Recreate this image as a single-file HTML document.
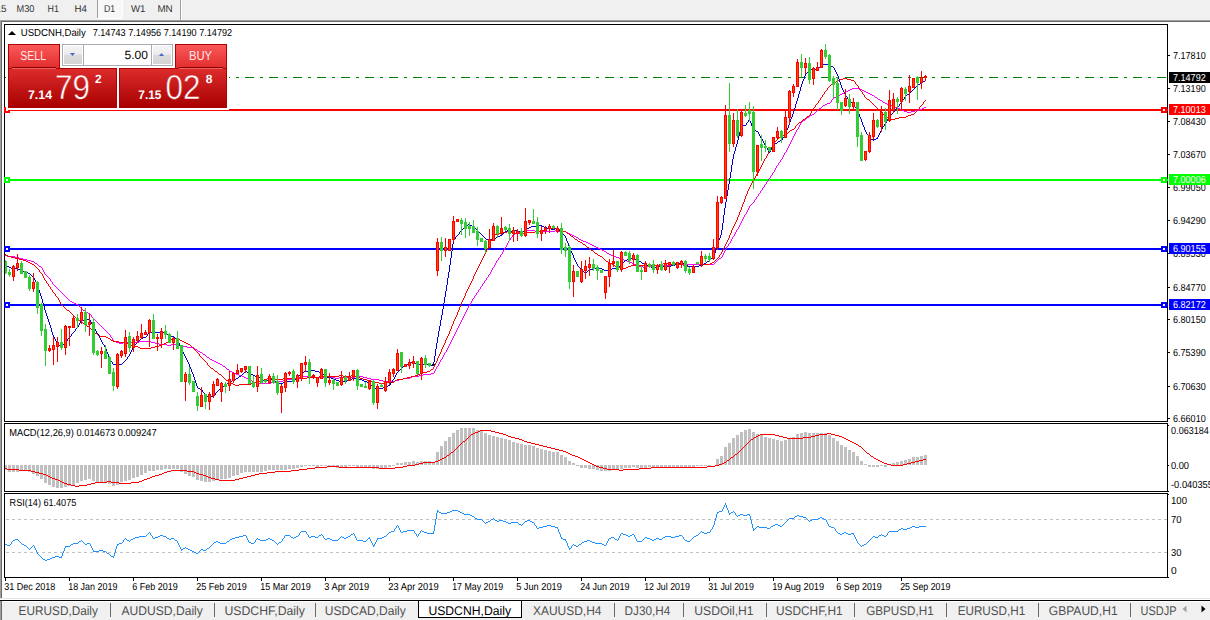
<!DOCTYPE html><html><head><meta charset="utf-8"><title>USDCNH,Daily</title><style>html,body{margin:0;padding:0;background:#f0f0f0;overflow:hidden;width:1210px;height:620px}svg{display:block;font-family:"Liberation Sans",sans-serif}</style></head><body><svg width="1210" height="620" viewBox="0 0 1210 620" font-family="Liberation Sans, sans-serif" text-rendering="geometricPrecision"><rect x="0" y="0" width="1210" height="20" fill="#f0f0f0"/>
<rect x="97" y="0" width="1" height="18" fill="#a0a0a0"/>
<rect x="98" y="0" width="24" height="18" fill="#f8f8f8"/>
<rect x="97" y="18" width="26" height="1" fill="#ffffff"/>
<rect x="122" y="0" width="1" height="18" fill="#ffffff"/>
<rect x="180" y="0" width="1" height="20" fill="#a0a0a0"/>
<rect x="181" y="0" width="1" height="20" fill="#ffffff"/>
<text x="6.5" y="12" font-size="10" fill="#333" text-anchor="end">M15</text>
<text x="16.5" y="12" font-size="10" fill="#333" textLength="17.9" lengthAdjust="spacingAndGlyphs">M30</text>
<text x="47.6" y="12" font-size="10" fill="#333" textLength="11.4" lengthAdjust="spacingAndGlyphs">H1</text>
<text x="74.4" y="12" font-size="10" fill="#333" textLength="12.4" lengthAdjust="spacingAndGlyphs">H4</text>
<text x="103.9" y="12" font-size="10" fill="#333" textLength="11.1" lengthAdjust="spacingAndGlyphs">D1</text>
<text x="131" y="12" font-size="10" fill="#333" textLength="14.5" lengthAdjust="spacingAndGlyphs">W1</text>
<text x="157.4" y="12" font-size="10" fill="#333" textLength="15.3" lengthAdjust="spacingAndGlyphs">MN</text>
<rect x="0" y="20" width="1210" height="1" fill="#a0a0a0"/>
<rect x="0" y="21" width="1210" height="1" fill="#696969"/>
<rect x="0" y="20" width="1" height="580" fill="#a0a0a0"/>
<rect x="1" y="21" width="1" height="579" fill="#696969"/>
<rect x="2" y="22" width="1208" height="576" fill="#ffffff"/>
<rect x="0" y="598" width="1210" height="1" fill="#e3e3e3"/>
<rect x="0" y="599" width="1210" height="1" fill="#ffffff"/>
<rect x="4" y="24" width="1164" height="1" fill="#000"/>
<rect x="4" y="421" width="1164" height="1" fill="#000"/>
<rect x="4" y="24" width="1" height="398" fill="#000"/>
<rect x="1167" y="24" width="1" height="398" fill="#000"/>
<rect x="4" y="423" width="1164" height="1" fill="#000"/>
<rect x="4" y="491" width="1164" height="1" fill="#000"/>
<rect x="4" y="423" width="1" height="69" fill="#000"/>
<rect x="1167" y="423" width="1" height="69" fill="#000"/>
<rect x="4" y="493" width="1164" height="1" fill="#000"/>
<rect x="4" y="577" width="1164" height="1" fill="#000"/>
<rect x="4" y="493" width="1" height="85" fill="#000"/>
<rect x="1167" y="493" width="1" height="85" fill="#000"/>
<defs><clipPath id="cm"><rect x="5" y="25" width="1162" height="396"/></clipPath><clipPath id="cmacd"><rect x="5" y="424" width="1162" height="67"/></clipPath><clipPath id="crsi"><rect x="5" y="494" width="1162" height="83"/></clipPath></defs>
<rect x="1168" y="55" width="2" height="1" fill="#000"/>
<text x="1173" y="59" font-size="10.2" fill="#000" textLength="32.7" lengthAdjust="spacingAndGlyphs">7.17810</text>
<rect x="1168" y="88" width="2" height="1" fill="#000"/>
<text x="1173" y="92" font-size="10.2" fill="#000" textLength="32.7" lengthAdjust="spacingAndGlyphs">7.13190</text>
<rect x="1168" y="121" width="2" height="1" fill="#000"/>
<text x="1173" y="125" font-size="10.2" fill="#000" textLength="32.7" lengthAdjust="spacingAndGlyphs">7.08430</text>
<rect x="1168" y="154" width="2" height="1" fill="#000"/>
<text x="1173" y="158" font-size="10.2" fill="#000" textLength="32.7" lengthAdjust="spacingAndGlyphs">7.03670</text>
<rect x="1168" y="187" width="2" height="1" fill="#000"/>
<text x="1173" y="191" font-size="10.2" fill="#000" textLength="32.7" lengthAdjust="spacingAndGlyphs">6.99050</text>
<rect x="1168" y="220" width="2" height="1" fill="#000"/>
<text x="1173" y="224" font-size="10.2" fill="#000" textLength="32.7" lengthAdjust="spacingAndGlyphs">6.94290</text>
<rect x="1168" y="253" width="2" height="1" fill="#000"/>
<text x="1173" y="257" font-size="10.2" fill="#000" textLength="32.7" lengthAdjust="spacingAndGlyphs">6.89530</text>
<rect x="1168" y="287" width="2" height="1" fill="#000"/>
<text x="1173" y="291" font-size="10.2" fill="#000" textLength="32.7" lengthAdjust="spacingAndGlyphs">6.84770</text>
<rect x="1168" y="319" width="2" height="1" fill="#000"/>
<text x="1173" y="323" font-size="10.2" fill="#000" textLength="32.7" lengthAdjust="spacingAndGlyphs">6.80150</text>
<rect x="1168" y="352" width="2" height="1" fill="#000"/>
<text x="1173" y="356" font-size="10.2" fill="#000" textLength="32.7" lengthAdjust="spacingAndGlyphs">6.75390</text>
<rect x="1168" y="386" width="2" height="1" fill="#000"/>
<text x="1173" y="390" font-size="10.2" fill="#000" textLength="32.7" lengthAdjust="spacingAndGlyphs">6.70630</text>
<rect x="1168" y="418" width="2" height="1" fill="#000"/>
<text x="1173" y="422" font-size="10.2" fill="#000" textLength="32.7" lengthAdjust="spacingAndGlyphs">6.66010</text>
<g clip-path="url(#cm)" shape-rendering="crispEdges">
<line x1="5" y1="77.5" x2="1167" y2="77.5" stroke="#008000" stroke-width="1" stroke-dasharray="9 6 3 6"/>
<rect x="5" y="109" width="1162" height="2" fill="#ff0000"/>
<rect x="5" y="179" width="1162" height="2" fill="#00ff00"/>
<rect x="5" y="248" width="1162" height="2" fill="#0000ff"/>
<rect x="5" y="304" width="1162" height="2" fill="#0000ff"/>
<path d="M852 88h7v1h-7zM850 89h2v1h-2zM859 89h3v1h-3zM848 90h2v1h-2zM862 90h2v1h-2zM846 91h2v1h-2zM864 91h2v1h-2zM844 92h2v1h-2zM866 92h2v1h-2zM842 93h2v1h-2zM868 93h2v1h-2zM840 94h2v1h-2zM870 94h2v1h-2zM838 95h2v1h-2zM872 95h2v1h-2zM836 96h2v1h-2zM874 96h1v1h-1zM834 97h2v1h-2zM875 97h2v1h-2zM833 98h1v1h-1zM877 98h1v1h-1zM832 99h1v1h-1zM878 99h2v1h-2zM831 100h1v1h-1zM880 100h2v1h-2zM831 101h1v1h-1zM882 101h1v1h-1zM830 102h1v1h-1zM883 102h2v1h-2zM827 103h3v1h-3zM885 103h2v1h-2zM825 104h2v1h-2zM887 104h3v1h-3zM823 105h2v1h-2zM890 105h2v1h-2zM822 106h1v1h-1zM892 106h3v1h-3zM821 107h1v1h-1zM895 107h3v1h-3zM924 107h2v1h-2zM819 108h2v1h-2zM898 108h2v1h-2zM922 108h2v1h-2zM818 109h1v1h-1zM900 109h2v1h-2zM919 109h3v1h-3zM817 110h1v1h-1zM902 110h2v1h-2zM915 110h4v1h-4zM816 111h1v1h-1zM904 111h3v1h-3zM911 111h4v1h-4zM815 112h1v1h-1zM907 112h4v1h-4zM814 113h1v1h-1zM812 114h2v1h-2zM810 115h2v1h-2zM809 116h1v1h-1zM807 117h2v1h-2zM806 118h1v1h-1zM805 119h1v1h-1zM803 120h2v1h-2zM802 121h1v1h-1zM801 122h1v1h-1zM800 123h1v1h-1zM800 124h1v1h-1zM799 125h1v1h-1zM799 126h1v1h-1zM798 127h1v1h-1zM798 128h1v1h-1zM797 129h1v1h-1zM796 130h1v1h-1zM796 131h1v1h-1zM795 132h1v1h-1zM795 133h1v1h-1zM794 134h1v1h-1zM794 135h1v1h-1zM793 136h1v1h-1zM793 137h1v1h-1zM792 138h1v1h-1zM792 139h1v1h-1zM791 140h1v1h-1zM791 141h1v1h-1zM790 142h1v1h-1zM790 143h1v1h-1zM789 144h1v1h-1zM789 145h1v1h-1zM788 146h1v1h-1zM788 147h1v1h-1zM787 148h1v1h-1zM787 149h1v1h-1zM786 150h1v1h-1zM786 151h1v1h-1zM785 152h1v1h-1zM784 153h1v1h-1zM784 154h1v1h-1zM783 155h1v1h-1zM783 156h1v1h-1zM782 157h1v1h-1zM782 158h1v1h-1zM781 159h1v1h-1zM780 160h1v1h-1zM780 161h1v1h-1zM779 162h1v1h-1zM778 163h1v1h-1zM778 164h1v1h-1zM777 165h1v1h-1zM776 166h1v1h-1zM776 167h1v1h-1zM775 168h1v1h-1zM775 169h1v1h-1zM774 170h1v1h-1zM774 171h1v1h-1zM773 172h1v1h-1zM772 173h1v1h-1zM772 174h1v1h-1zM771 175h1v1h-1zM770 176h1v1h-1zM770 177h1v1h-1zM769 178h1v1h-1zM768 179h1v1h-1zM768 180h1v1h-1zM767 181h1v1h-1zM766 182h1v1h-1zM766 183h1v1h-1zM765 184h1v1h-1zM764 185h1v1h-1zM764 186h1v1h-1zM763 187h1v1h-1zM762 188h1v1h-1zM762 189h1v1h-1zM761 190h1v1h-1zM760 191h1v1h-1zM760 192h1v1h-1zM759 193h1v1h-1zM758 194h1v1h-1zM758 195h1v1h-1zM757 196h1v1h-1zM756 197h1v1h-1zM756 198h1v1h-1zM755 199h1v1h-1zM754 200h1v1h-1zM754 201h1v1h-1zM753 202h1v1h-1zM752 203h1v1h-1zM751 204h1v1h-1zM750 205h1v1h-1zM749 206h1v1h-1zM749 207h1v1h-1zM748 208h1v1h-1zM748 209h1v1h-1zM747 210h1v1h-1zM747 211h1v1h-1zM746 212h1v1h-1zM746 213h1v1h-1zM745 214h1v1h-1zM744 215h1v1h-1zM744 216h1v1h-1zM743 217h1v1h-1zM743 218h1v1h-1zM742 219h1v1h-1zM742 220h1v1h-1zM741 221h1v1h-1zM741 222h1v1h-1zM740 223h1v1h-1zM740 224h1v1h-1zM739 225h1v1h-1zM739 226h1v1h-1zM738 227h1v1h-1zM738 228h1v1h-1zM737 229h1v1h-1zM527 230h8v1h-8zM555 230h4v1h-4zM736 230h1v1h-1zM523 231h4v1h-4zM535 231h20v1h-20zM559 231h7v1h-7zM736 231h1v1h-1zM519 232h4v1h-4zM566 232h2v1h-2zM735 232h1v1h-1zM515 233h4v1h-4zM568 233h2v1h-2zM735 233h1v1h-1zM513 234h2v1h-2zM570 234h2v1h-2zM734 234h1v1h-1zM512 235h1v1h-1zM572 235h2v1h-2zM734 235h1v1h-1zM512 236h1v1h-1zM574 236h2v1h-2zM733 236h1v1h-1zM511 237h1v1h-1zM576 237h2v1h-2zM732 237h1v1h-1zM510 238h1v1h-1zM578 238h1v1h-1zM732 238h1v1h-1zM510 239h1v1h-1zM579 239h2v1h-2zM731 239h1v1h-1zM509 240h1v1h-1zM581 240h2v1h-2zM731 240h1v1h-1zM508 241h1v1h-1zM583 241h3v1h-3zM730 241h1v1h-1zM508 242h1v1h-1zM586 242h2v1h-2zM730 242h1v1h-1zM507 243h1v1h-1zM588 243h2v1h-2zM729 243h1v1h-1zM507 244h1v1h-1zM590 244h2v1h-2zM728 244h1v1h-1zM506 245h1v1h-1zM592 245h2v1h-2zM728 245h1v1h-1zM506 246h1v1h-1zM594 246h2v1h-2zM727 246h1v1h-1zM505 247h1v1h-1zM596 247h2v1h-2zM726 247h1v1h-1zM504 248h1v1h-1zM598 248h2v1h-2zM726 248h1v1h-1zM504 249h1v1h-1zM600 249h2v1h-2zM725 249h1v1h-1zM503 250h1v1h-1zM602 250h2v1h-2zM725 250h1v1h-1zM503 251h1v1h-1zM604 251h2v1h-2zM724 251h1v1h-1zM502 252h1v1h-1zM606 252h1v1h-1zM724 252h1v1h-1zM502 253h1v1h-1zM607 253h2v1h-2zM723 253h1v1h-1zM1 254h2v1h-2zM501 254h1v1h-1zM609 254h2v1h-2zM723 254h1v1h-1zM3 255h4v1h-4zM500 255h1v1h-1zM611 255h3v1h-3zM722 255h1v1h-1zM7 256h8v1h-8zM500 256h1v1h-1zM614 256h2v1h-2zM722 256h1v1h-1zM15 257h4v1h-4zM499 257h1v1h-1zM616 257h3v1h-3zM721 257h1v1h-1zM19 258h4v1h-4zM498 258h1v1h-1zM619 258h3v1h-3zM719 258h2v1h-2zM23 259h4v1h-4zM498 259h1v1h-1zM622 259h2v1h-2zM718 259h1v1h-1zM27 260h4v1h-4zM497 260h1v1h-1zM624 260h3v1h-3zM717 260h1v1h-1zM31 261h3v1h-3zM496 261h1v1h-1zM627 261h3v1h-3zM716 261h1v1h-1zM34 262h1v1h-1zM496 262h1v1h-1zM630 262h2v1h-2zM715 262h1v1h-1zM35 263h2v1h-2zM495 263h1v1h-1zM632 263h2v1h-2zM714 263h1v1h-1zM37 264h1v1h-1zM495 264h1v1h-1zM634 264h2v1h-2zM675 264h39v1h-39zM38 265h1v1h-1zM494 265h1v1h-1zM636 265h3v1h-3zM655 265h20v1h-20zM39 266h2v1h-2zM494 266h1v1h-1zM639 266h4v1h-4zM647 266h8v1h-8zM41 267h1v1h-1zM493 267h1v1h-1zM643 267h4v1h-4zM42 268h1v1h-1zM492 268h1v1h-1zM42 269h1v1h-1zM492 269h1v1h-1zM43 270h1v1h-1zM491 270h1v1h-1zM43 271h1v1h-1zM491 271h1v1h-1zM44 272h1v1h-1zM490 272h1v1h-1zM44 273h1v1h-1zM490 273h1v1h-1zM45 274h1v1h-1zM489 274h1v1h-1zM46 275h1v1h-1zM488 275h1v1h-1zM47 276h1v1h-1zM488 276h1v1h-1zM48 277h1v1h-1zM487 277h1v1h-1zM49 278h1v1h-1zM486 278h1v1h-1zM50 279h1v1h-1zM486 279h1v1h-1zM50 280h1v1h-1zM485 280h1v1h-1zM51 281h1v1h-1zM484 281h1v1h-1zM52 282h1v1h-1zM484 282h1v1h-1zM52 283h1v1h-1zM483 283h1v1h-1zM53 284h1v1h-1zM482 284h1v1h-1zM54 285h1v1h-1zM482 285h1v1h-1zM55 286h1v1h-1zM481 286h1v1h-1zM56 287h1v1h-1zM480 287h1v1h-1zM57 288h1v1h-1zM480 288h1v1h-1zM58 289h1v1h-1zM479 289h1v1h-1zM59 290h1v1h-1zM478 290h1v1h-1zM60 291h1v1h-1zM478 291h1v1h-1zM61 292h1v1h-1zM477 292h1v1h-1zM62 293h1v1h-1zM476 293h1v1h-1zM63 294h1v1h-1zM476 294h1v1h-1zM64 295h1v1h-1zM475 295h1v1h-1zM65 296h1v1h-1zM474 296h1v1h-1zM66 297h1v1h-1zM474 297h1v1h-1zM67 298h1v1h-1zM473 298h1v1h-1zM68 299h1v1h-1zM472 299h1v1h-1zM69 300h1v1h-1zM472 300h1v1h-1zM70 301h2v1h-2zM471 301h1v1h-1zM72 302h2v1h-2zM471 302h1v1h-1zM74 303h2v1h-2zM470 303h1v1h-1zM76 304h2v1h-2zM470 304h1v1h-1zM78 305h1v1h-1zM469 305h1v1h-1zM79 306h1v1h-1zM468 306h1v1h-1zM80 307h1v1h-1zM468 307h1v1h-1zM81 308h1v1h-1zM467 308h1v1h-1zM82 309h1v1h-1zM467 309h1v1h-1zM83 310h2v1h-2zM466 310h1v1h-1zM85 311h1v1h-1zM466 311h1v1h-1zM86 312h2v1h-2zM465 312h1v1h-1zM88 313h2v1h-2zM465 313h1v1h-1zM90 314h1v1h-1zM464 314h1v1h-1zM91 315h1v1h-1zM464 315h1v1h-1zM91 316h1v1h-1zM463 316h1v1h-1zM92 317h1v1h-1zM463 317h1v1h-1zM93 318h1v1h-1zM462 318h1v1h-1zM94 319h1v1h-1zM462 319h1v1h-1zM95 320h1v1h-1zM461 320h1v1h-1zM96 321h1v1h-1zM461 321h1v1h-1zM97 322h1v1h-1zM460 322h1v1h-1zM98 323h1v1h-1zM460 323h1v1h-1zM99 324h1v1h-1zM459 324h1v1h-1zM100 325h1v1h-1zM459 325h1v1h-1zM101 326h1v1h-1zM458 326h1v1h-1zM102 327h1v1h-1zM458 327h1v1h-1zM103 328h1v1h-1zM457 328h1v1h-1zM104 329h1v1h-1zM457 329h1v1h-1zM105 330h1v1h-1zM456 330h1v1h-1zM106 331h1v1h-1zM456 331h1v1h-1zM107 332h1v1h-1zM455 332h1v1h-1zM108 333h1v1h-1zM455 333h1v1h-1zM109 334h1v1h-1zM454 334h1v1h-1zM110 335h1v1h-1zM454 335h1v1h-1zM110 336h1v1h-1zM453 336h1v1h-1zM111 337h1v1h-1zM453 337h1v1h-1zM112 338h1v1h-1zM452 338h1v1h-1zM112 339h1v1h-1zM452 339h1v1h-1zM113 340h1v1h-1zM451 340h1v1h-1zM114 341h2v1h-2zM139 341h12v1h-12zM451 341h1v1h-1zM116 342h3v1h-3zM123 342h16v1h-16zM151 342h4v1h-4zM450 342h1v1h-1zM119 343h4v1h-4zM155 343h4v1h-4zM450 343h1v1h-1zM159 344h8v1h-8zM171 344h7v1h-7zM449 344h1v1h-1zM167 345h4v1h-4zM178 345h2v1h-2zM449 345h1v1h-1zM180 346h7v1h-7zM448 346h1v1h-1zM187 347h7v1h-7zM448 347h1v1h-1zM194 348h1v1h-1zM447 348h1v1h-1zM195 349h2v1h-2zM447 349h1v1h-1zM197 350h1v1h-1zM446 350h1v1h-1zM198 351h2v1h-2zM446 351h1v1h-1zM200 352h2v1h-2zM445 352h1v1h-1zM202 353h1v1h-1zM444 353h1v1h-1zM203 354h2v1h-2zM444 354h1v1h-1zM205 355h1v1h-1zM443 355h1v1h-1zM206 356h1v1h-1zM443 356h1v1h-1zM207 357h2v1h-2zM442 357h1v1h-1zM209 358h1v1h-1zM442 358h1v1h-1zM210 359h2v1h-2zM441 359h1v1h-1zM212 360h2v1h-2zM440 360h1v1h-1zM214 361h2v1h-2zM440 361h1v1h-1zM216 362h2v1h-2zM439 362h1v1h-1zM218 363h2v1h-2zM439 363h1v1h-1zM220 364h2v1h-2zM438 364h1v1h-1zM222 365h1v1h-1zM438 365h1v1h-1zM223 366h2v1h-2zM437 366h1v1h-1zM225 367h1v1h-1zM436 367h1v1h-1zM226 368h1v1h-1zM436 368h1v1h-1zM227 369h2v1h-2zM435 369h1v1h-1zM229 370h1v1h-1zM435 370h1v1h-1zM230 371h2v1h-2zM434 371h1v1h-1zM232 372h2v1h-2zM434 372h1v1h-1zM234 373h2v1h-2zM431 373h3v1h-3zM236 374h3v1h-3zM423 374h8v1h-8zM239 375h3v1h-3zM419 375h4v1h-4zM242 376h2v1h-2zM303 376h12v1h-12zM355 376h8v1h-8zM412 376h7v1h-7zM244 377h2v1h-2zM299 377h4v1h-4zM315 377h20v1h-20zM339 377h16v1h-16zM363 377h4v1h-4zM410 377h2v1h-2zM246 378h2v1h-2zM295 378h4v1h-4zM335 378h4v1h-4zM367 378h4v1h-4zM403 378h7v1h-7zM248 379h2v1h-2zM287 379h8v1h-8zM371 379h8v1h-8zM399 379h4v1h-4zM250 380h2v1h-2zM283 380h4v1h-4zM379 380h4v1h-4zM395 380h4v1h-4zM252 381h2v1h-2zM279 381h4v1h-4zM383 381h12v1h-12zM254 382h2v1h-2zM271 382h8v1h-8zM256 383h15v1h-15z" fill="#ff00ff"/>
<path d="M843 78h4v1h-4zM840 79h3v1h-3zM847 79h4v1h-4zM838 80h2v1h-2zM851 80h3v1h-3zM836 81h2v1h-2zM854 81h1v1h-1zM834 82h2v1h-2zM855 82h1v1h-1zM833 83h1v1h-1zM855 83h1v1h-1zM831 84h2v1h-2zM856 84h1v1h-1zM830 85h1v1h-1zM857 85h1v1h-1zM829 86h1v1h-1zM858 86h1v1h-1zM828 87h1v1h-1zM858 87h1v1h-1zM827 88h1v1h-1zM859 88h1v1h-1zM827 89h1v1h-1zM860 89h1v1h-1zM826 90h1v1h-1zM860 90h1v1h-1zM825 91h1v1h-1zM861 91h1v1h-1zM824 92h1v1h-1zM862 92h1v1h-1zM824 93h1v1h-1zM862 93h1v1h-1zM823 94h1v1h-1zM863 94h1v1h-1zM822 95h1v1h-1zM864 95h1v1h-1zM822 96h1v1h-1zM864 96h1v1h-1zM821 97h1v1h-1zM865 97h1v1h-1zM820 98h1v1h-1zM866 98h1v1h-1zM820 99h1v1h-1zM867 99h2v1h-2zM819 100h1v1h-1zM869 100h1v1h-1zM925 100h1v1h-1zM818 101h1v1h-1zM870 101h1v1h-1zM924 101h1v1h-1zM818 102h1v1h-1zM871 102h1v1h-1zM923 102h1v1h-1zM817 103h1v1h-1zM872 103h1v1h-1zM923 103h1v1h-1zM816 104h1v1h-1zM873 104h1v1h-1zM922 104h1v1h-1zM815 105h1v1h-1zM874 105h1v1h-1zM921 105h1v1h-1zM815 106h1v1h-1zM875 106h1v1h-1zM920 106h1v1h-1zM814 107h1v1h-1zM876 107h1v1h-1zM919 107h1v1h-1zM813 108h1v1h-1zM877 108h1v1h-1zM919 108h1v1h-1zM812 109h1v1h-1zM878 109h1v1h-1zM918 109h1v1h-1zM812 110h1v1h-1zM879 110h1v1h-1zM917 110h1v1h-1zM811 111h1v1h-1zM880 111h1v1h-1zM916 111h1v1h-1zM811 112h1v1h-1zM881 112h1v1h-1zM915 112h1v1h-1zM810 113h1v1h-1zM882 113h1v1h-1zM914 113h1v1h-1zM810 114h1v1h-1zM883 114h1v1h-1zM911 114h3v1h-3zM809 115h1v1h-1zM884 115h1v1h-1zM908 115h3v1h-3zM807 116h2v1h-2zM885 116h1v1h-1zM906 116h2v1h-2zM806 117h1v1h-1zM886 117h2v1h-2zM899 117h7v1h-7zM805 118h1v1h-1zM888 118h3v1h-3zM895 118h4v1h-4zM803 119h2v1h-2zM891 119h4v1h-4zM802 120h1v1h-1zM801 121h1v1h-1zM799 122h2v1h-2zM798 123h1v1h-1zM797 124h1v1h-1zM796 125h1v1h-1zM795 126h1v1h-1zM795 127h1v1h-1zM794 128h1v1h-1zM792 129h2v1h-2zM790 130h2v1h-2zM789 131h1v1h-1zM788 132h1v1h-1zM787 133h1v1h-1zM786 134h1v1h-1zM781 135h5v1h-5zM780 136h1v1h-1zM779 137h1v1h-1zM778 138h1v1h-1zM777 139h1v1h-1zM776 140h1v1h-1zM775 141h1v1h-1zM774 142h1v1h-1zM773 143h1v1h-1zM773 144h1v1h-1zM772 145h1v1h-1zM772 146h1v1h-1zM771 147h1v1h-1zM771 148h1v1h-1zM770 149h1v1h-1zM770 150h1v1h-1zM769 151h1v1h-1zM768 152h1v1h-1zM768 153h1v1h-1zM767 154h1v1h-1zM767 155h1v1h-1zM766 156h1v1h-1zM766 157h1v1h-1zM765 158h1v1h-1zM764 159h1v1h-1zM764 160h1v1h-1zM763 161h1v1h-1zM763 162h1v1h-1zM762 163h1v1h-1zM762 164h1v1h-1zM761 165h1v1h-1zM761 166h1v1h-1zM760 167h1v1h-1zM760 168h1v1h-1zM759 169h1v1h-1zM759 170h1v1h-1zM758 171h1v1h-1zM758 172h1v1h-1zM757 173h1v1h-1zM756 174h1v1h-1zM756 175h1v1h-1zM755 176h1v1h-1zM755 177h1v1h-1zM754 178h1v1h-1zM754 179h1v1h-1zM753 180h1v1h-1zM752 181h1v1h-1zM752 182h1v1h-1zM751 183h1v1h-1zM751 184h1v1h-1zM750 185h1v1h-1zM750 186h1v1h-1zM749 187h1v1h-1zM749 188h1v1h-1zM748 189h1v1h-1zM748 190h1v1h-1zM747 191h1v1h-1zM747 192h1v1h-1zM747 193h1v1h-1zM746 194h1v1h-1zM746 195h1v1h-1zM745 196h1v1h-1zM745 197h1v1h-1zM745 198h1v1h-1zM744 199h1v1h-1zM744 200h1v1h-1zM744 201h1v1h-1zM743 202h1v1h-1zM743 203h1v1h-1zM742 204h1v1h-1zM742 205h1v1h-1zM742 206h1v1h-1zM741 207h1v1h-1zM741 208h1v1h-1zM741 209h1v1h-1zM740 210h1v1h-1zM740 211h1v1h-1zM739 212h1v1h-1zM739 213h1v1h-1zM739 214h1v1h-1zM738 215h1v1h-1zM738 216h1v1h-1zM737 217h1v1h-1zM737 218h1v1h-1zM737 219h1v1h-1zM736 220h1v1h-1zM736 221h1v1h-1zM735 222h1v1h-1zM735 223h1v1h-1zM734 224h1v1h-1zM734 225h1v1h-1zM733 226h1v1h-1zM733 227h1v1h-1zM547 228h11v1h-11zM732 228h1v1h-1zM544 229h3v1h-3zM558 229h2v1h-2zM732 229h1v1h-1zM542 230h2v1h-2zM560 230h3v1h-3zM731 230h1v1h-1zM507 231h4v1h-4zM535 231h7v1h-7zM563 231h3v1h-3zM731 231h1v1h-1zM503 232h4v1h-4zM511 232h4v1h-4zM527 232h8v1h-8zM566 232h1v1h-1zM731 232h1v1h-1zM499 233h4v1h-4zM515 233h12v1h-12zM567 233h2v1h-2zM730 233h1v1h-1zM495 234h4v1h-4zM569 234h1v1h-1zM730 234h1v1h-1zM493 235h2v1h-2zM570 235h1v1h-1zM729 235h1v1h-1zM493 236h1v1h-1zM571 236h2v1h-2zM729 236h1v1h-1zM492 237h1v1h-1zM573 237h1v1h-1zM729 237h1v1h-1zM492 238h1v1h-1zM574 238h1v1h-1zM728 238h1v1h-1zM491 239h1v1h-1zM575 239h2v1h-2zM728 239h1v1h-1zM491 240h1v1h-1zM577 240h1v1h-1zM727 240h1v1h-1zM490 241h1v1h-1zM578 241h2v1h-2zM727 241h1v1h-1zM490 242h1v1h-1zM580 242h2v1h-2zM726 242h1v1h-1zM489 243h1v1h-1zM582 243h1v1h-1zM726 243h1v1h-1zM489 244h1v1h-1zM583 244h2v1h-2zM725 244h1v1h-1zM489 245h1v1h-1zM585 245h1v1h-1zM725 245h1v1h-1zM488 246h1v1h-1zM586 246h1v1h-1zM724 246h1v1h-1zM488 247h1v1h-1zM587 247h2v1h-2zM724 247h1v1h-1zM487 248h1v1h-1zM589 248h1v1h-1zM723 248h1v1h-1zM487 249h1v1h-1zM590 249h1v1h-1zM723 249h1v1h-1zM486 250h1v1h-1zM591 250h2v1h-2zM722 250h1v1h-1zM486 251h1v1h-1zM593 251h1v1h-1zM722 251h1v1h-1zM485 252h1v1h-1zM594 252h1v1h-1zM721 252h1v1h-1zM485 253h1v1h-1zM595 253h2v1h-2zM721 253h1v1h-1zM5 254h1v1h-1zM484 254h1v1h-1zM597 254h1v1h-1zM720 254h1v1h-1zM6 255h2v1h-2zM484 255h1v1h-1zM598 255h2v1h-2zM719 255h1v1h-1zM8 256h3v1h-3zM483 256h1v1h-1zM600 256h2v1h-2zM719 256h1v1h-1zM11 257h4v1h-4zM483 257h1v1h-1zM602 257h1v1h-1zM718 257h1v1h-1zM15 258h4v1h-4zM482 258h1v1h-1zM603 258h1v1h-1zM717 258h1v1h-1zM19 259h4v1h-4zM482 259h1v1h-1zM604 259h1v1h-1zM716 259h1v1h-1zM23 260h3v1h-3zM481 260h1v1h-1zM605 260h1v1h-1zM715 260h1v1h-1zM26 261h2v1h-2zM481 261h1v1h-1zM606 261h2v1h-2zM714 261h1v1h-1zM28 262h2v1h-2zM480 262h1v1h-1zM608 262h2v1h-2zM712 262h2v1h-2zM30 263h2v1h-2zM480 263h1v1h-1zM610 263h2v1h-2zM663 263h8v1h-8zM675 263h4v1h-4zM710 263h2v1h-2zM32 264h2v1h-2zM479 264h1v1h-1zM612 264h2v1h-2zM659 264h4v1h-4zM671 264h4v1h-4zM679 264h4v1h-4zM703 264h7v1h-7zM34 265h1v1h-1zM479 265h1v1h-1zM614 265h1v1h-1zM631 265h28v1h-28zM683 265h4v1h-4zM699 265h4v1h-4zM35 266h1v1h-1zM478 266h1v1h-1zM615 266h2v1h-2zM628 266h3v1h-3zM687 266h12v1h-12zM36 267h1v1h-1zM478 267h1v1h-1zM617 267h6v1h-6zM626 267h2v1h-2zM37 268h1v1h-1zM477 268h1v1h-1zM623 268h3v1h-3zM38 269h1v1h-1zM477 269h1v1h-1zM39 270h1v1h-1zM476 270h1v1h-1zM39 271h1v1h-1zM476 271h1v1h-1zM40 272h1v1h-1zM475 272h1v1h-1zM41 273h1v1h-1zM475 273h1v1h-1zM42 274h1v1h-1zM474 274h1v1h-1zM42 275h1v1h-1zM474 275h1v1h-1zM43 276h1v1h-1zM473 276h1v1h-1zM43 277h1v1h-1zM473 277h1v1h-1zM44 278h1v1h-1zM473 278h1v1h-1zM44 279h1v1h-1zM472 279h1v1h-1zM45 280h1v1h-1zM472 280h1v1h-1zM46 281h1v1h-1zM471 281h1v1h-1zM46 282h1v1h-1zM471 282h1v1h-1zM47 283h1v1h-1zM470 283h1v1h-1zM48 284h1v1h-1zM470 284h1v1h-1zM48 285h1v1h-1zM469 285h1v1h-1zM49 286h1v1h-1zM469 286h1v1h-1zM50 287h1v1h-1zM468 287h1v1h-1zM50 288h1v1h-1zM468 288h1v1h-1zM51 289h1v1h-1zM467 289h1v1h-1zM52 290h1v1h-1zM467 290h1v1h-1zM52 291h1v1h-1zM466 291h1v1h-1zM53 292h1v1h-1zM466 292h1v1h-1zM54 293h1v1h-1zM465 293h1v1h-1zM55 294h1v1h-1zM465 294h1v1h-1zM55 295h1v1h-1zM465 295h1v1h-1zM56 296h1v1h-1zM464 296h1v1h-1zM57 297h1v1h-1zM464 297h1v1h-1zM58 298h1v1h-1zM463 298h1v1h-1zM58 299h1v1h-1zM463 299h1v1h-1zM59 300h1v1h-1zM462 300h1v1h-1zM59 301h1v1h-1zM462 301h1v1h-1zM60 302h1v1h-1zM461 302h1v1h-1zM60 303h1v1h-1zM461 303h1v1h-1zM61 304h1v1h-1zM461 304h1v1h-1zM62 305h1v1h-1zM460 305h1v1h-1zM63 306h1v1h-1zM460 306h1v1h-1zM64 307h1v1h-1zM459 307h1v1h-1zM65 308h1v1h-1zM459 308h1v1h-1zM66 309h1v1h-1zM459 309h1v1h-1zM67 310h2v1h-2zM458 310h1v1h-1zM69 311h1v1h-1zM458 311h1v1h-1zM70 312h1v1h-1zM457 312h1v1h-1zM71 313h1v1h-1zM457 313h1v1h-1zM72 314h1v1h-1zM457 314h1v1h-1zM73 315h1v1h-1zM456 315h1v1h-1zM74 316h1v1h-1zM456 316h1v1h-1zM75 317h1v1h-1zM455 317h1v1h-1zM76 318h1v1h-1zM455 318h1v1h-1zM77 319h1v1h-1zM454 319h1v1h-1zM78 320h2v1h-2zM454 320h1v1h-1zM80 321h2v1h-2zM453 321h1v1h-1zM82 322h1v1h-1zM453 322h1v1h-1zM83 323h2v1h-2zM453 323h1v1h-1zM85 324h1v1h-1zM452 324h1v1h-1zM86 325h1v1h-1zM452 325h1v1h-1zM87 326h2v1h-2zM451 326h1v1h-1zM89 327h1v1h-1zM451 327h1v1h-1zM90 328h1v1h-1zM451 328h1v1h-1zM91 329h1v1h-1zM450 329h1v1h-1zM92 330h1v1h-1zM450 330h1v1h-1zM93 331h1v1h-1zM449 331h1v1h-1zM94 332h1v1h-1zM449 332h1v1h-1zM95 333h2v1h-2zM449 333h1v1h-1zM97 334h1v1h-1zM448 334h1v1h-1zM98 335h2v1h-2zM448 335h1v1h-1zM100 336h6v1h-6zM447 336h1v1h-1zM106 337h2v1h-2zM447 337h1v1h-1zM108 338h2v1h-2zM173 338h5v1h-5zM446 338h1v1h-1zM110 339h1v1h-1zM171 339h2v1h-2zM178 339h2v1h-2zM446 339h1v1h-1zM111 340h2v1h-2zM170 340h1v1h-1zM180 340h2v1h-2zM445 340h1v1h-1zM113 341h6v1h-6zM168 341h2v1h-2zM182 341h2v1h-2zM445 341h1v1h-1zM119 342h7v1h-7zM166 342h2v1h-2zM184 342h2v1h-2zM445 342h1v1h-1zM126 343h2v1h-2zM164 343h2v1h-2zM186 343h2v1h-2zM444 343h1v1h-1zM128 344h3v1h-3zM162 344h2v1h-2zM188 344h2v1h-2zM444 344h1v1h-1zM131 345h4v1h-4zM159 345h3v1h-3zM190 345h1v1h-1zM443 345h1v1h-1zM135 346h3v1h-3zM155 346h4v1h-4zM191 346h1v1h-1zM443 346h1v1h-1zM138 347h2v1h-2zM151 347h4v1h-4zM192 347h1v1h-1zM442 347h1v1h-1zM140 348h11v1h-11zM193 348h1v1h-1zM442 348h1v1h-1zM194 349h1v1h-1zM441 349h1v1h-1zM195 350h1v1h-1zM441 350h1v1h-1zM196 351h1v1h-1zM441 351h1v1h-1zM197 352h1v1h-1zM440 352h1v1h-1zM198 353h1v1h-1zM440 353h1v1h-1zM199 354h1v1h-1zM439 354h1v1h-1zM199 355h1v1h-1zM439 355h1v1h-1zM200 356h1v1h-1zM438 356h1v1h-1zM201 357h1v1h-1zM438 357h1v1h-1zM202 358h1v1h-1zM437 358h1v1h-1zM203 359h1v1h-1zM437 359h1v1h-1zM204 360h1v1h-1zM437 360h1v1h-1zM205 361h1v1h-1zM436 361h1v1h-1zM206 362h1v1h-1zM436 362h1v1h-1zM207 363h1v1h-1zM435 363h1v1h-1zM207 364h1v1h-1zM435 364h1v1h-1zM208 365h1v1h-1zM434 365h1v1h-1zM209 366h1v1h-1zM434 366h1v1h-1zM210 367h1v1h-1zM433 367h1v1h-1zM211 368h2v1h-2zM433 368h1v1h-1zM213 369h1v1h-1zM431 369h2v1h-2zM214 370h1v1h-1zM430 370h1v1h-1zM215 371h2v1h-2zM427 371h3v1h-3zM217 372h1v1h-1zM423 372h4v1h-4zM218 373h1v1h-1zM420 373h3v1h-3zM219 374h2v1h-2zM418 374h2v1h-2zM221 375h1v1h-1zM339 375h4v1h-4zM351 375h4v1h-4zM415 375h3v1h-3zM222 376h1v1h-1zM319 376h20v1h-20zM343 376h8v1h-8zM355 376h3v1h-3zM411 376h4v1h-4zM223 377h1v1h-1zM307 377h12v1h-12zM358 377h2v1h-2zM407 377h4v1h-4zM224 378h1v1h-1zM267 378h8v1h-8zM283 378h12v1h-12zM299 378h8v1h-8zM360 378h3v1h-3zM403 378h4v1h-4zM225 379h1v1h-1zM264 379h3v1h-3zM275 379h8v1h-8zM295 379h4v1h-4zM363 379h4v1h-4zM397 379h6v1h-6zM226 380h2v1h-2zM262 380h2v1h-2zM367 380h4v1h-4zM395 380h2v1h-2zM228 381h2v1h-2zM256 381h6v1h-6zM371 381h4v1h-4zM394 381h1v1h-1zM230 382h1v1h-1zM254 382h2v1h-2zM375 382h4v1h-4zM387 382h7v1h-7zM231 383h2v1h-2zM251 383h3v1h-3zM379 383h8v1h-8zM233 384h2v1h-2zM239 384h12v1h-12zM235 385h4v1h-4z" fill="#ff0000"/>
<path d="M823 64h7v1h-7zM821 65h2v1h-2zM830 65h1v1h-1zM820 66h1v1h-1zM831 66h2v1h-2zM819 67h1v1h-1zM833 67h1v1h-1zM813 68h2v1h-2zM818 68h1v1h-1zM834 68h1v1h-1zM811 69h2v1h-2zM815 69h3v1h-3zM834 69h1v1h-1zM810 70h1v1h-1zM835 70h1v1h-1zM809 71h1v1h-1zM835 71h1v1h-1zM807 72h2v1h-2zM836 72h1v1h-1zM806 73h1v1h-1zM836 73h1v1h-1zM805 74h1v1h-1zM837 74h1v1h-1zM805 75h1v1h-1zM837 75h1v1h-1zM804 76h1v1h-1zM838 76h1v1h-1zM804 77h1v1h-1zM838 77h1v1h-1zM804 78h1v1h-1zM838 78h1v1h-1zM803 79h1v1h-1zM839 79h1v1h-1zM803 80h1v1h-1zM839 80h1v1h-1zM925 80h1v1h-1zM802 81h1v1h-1zM839 81h1v1h-1zM923 81h2v1h-2zM802 82h1v1h-1zM840 82h1v1h-1zM922 82h1v1h-1zM802 83h1v1h-1zM840 83h1v1h-1zM920 83h2v1h-2zM801 84h1v1h-1zM840 84h1v1h-1zM918 84h2v1h-2zM801 85h1v1h-1zM841 85h1v1h-1zM917 85h1v1h-1zM801 86h1v1h-1zM841 86h1v1h-1zM916 86h1v1h-1zM800 87h1v1h-1zM841 87h1v1h-1zM915 87h1v1h-1zM800 88h1v1h-1zM842 88h1v1h-1zM914 88h1v1h-1zM800 89h1v1h-1zM842 89h1v1h-1zM913 89h1v1h-1zM800 90h1v1h-1zM843 90h1v1h-1zM912 90h1v1h-1zM799 91h1v1h-1zM843 91h1v1h-1zM911 91h1v1h-1zM799 92h1v1h-1zM844 92h1v1h-1zM910 92h1v1h-1zM799 93h1v1h-1zM844 93h1v1h-1zM909 93h1v1h-1zM798 94h1v1h-1zM845 94h1v1h-1zM907 94h2v1h-2zM798 95h1v1h-1zM845 95h1v1h-1zM906 95h1v1h-1zM798 96h1v1h-1zM846 96h1v1h-1zM905 96h1v1h-1zM798 97h1v1h-1zM847 97h1v1h-1zM904 97h1v1h-1zM797 98h1v1h-1zM847 98h1v1h-1zM904 98h1v1h-1zM797 99h1v1h-1zM848 99h1v1h-1zM903 99h1v1h-1zM797 100h1v1h-1zM849 100h1v1h-1zM902 100h1v1h-1zM796 101h1v1h-1zM850 101h1v1h-1zM902 101h1v1h-1zM796 102h1v1h-1zM851 102h1v1h-1zM901 102h1v1h-1zM796 103h1v1h-1zM852 103h1v1h-1zM900 103h1v1h-1zM795 104h1v1h-1zM853 104h1v1h-1zM899 104h1v1h-1zM795 105h1v1h-1zM854 105h1v1h-1zM899 105h1v1h-1zM795 106h1v1h-1zM854 106h1v1h-1zM898 106h1v1h-1zM795 107h1v1h-1zM855 107h1v1h-1zM897 107h1v1h-1zM794 108h1v1h-1zM856 108h1v1h-1zM896 108h1v1h-1zM794 109h1v1h-1zM856 109h1v1h-1zM895 109h1v1h-1zM794 110h1v1h-1zM857 110h1v1h-1zM895 110h1v1h-1zM793 111h1v1h-1zM857 111h1v1h-1zM894 111h1v1h-1zM793 112h1v1h-1zM858 112h1v1h-1zM893 112h1v1h-1zM793 113h1v1h-1zM858 113h1v1h-1zM892 113h1v1h-1zM792 114h1v1h-1zM859 114h1v1h-1zM891 114h1v1h-1zM792 115h1v1h-1zM859 115h1v1h-1zM890 115h1v1h-1zM792 116h1v1h-1zM859 116h1v1h-1zM889 116h1v1h-1zM791 117h1v1h-1zM860 117h1v1h-1zM888 117h1v1h-1zM791 118h1v1h-1zM860 118h1v1h-1zM888 118h1v1h-1zM749 119h1v1h-1zM790 119h1v1h-1zM861 119h1v1h-1zM887 119h1v1h-1zM748 120h2v1h-2zM790 120h1v1h-1zM861 120h1v1h-1zM887 120h1v1h-1zM748 121h1v1h-1zM750 121h1v1h-1zM790 121h1v1h-1zM861 121h1v1h-1zM886 121h1v1h-1zM747 122h1v1h-1zM750 122h1v1h-1zM789 122h1v1h-1zM862 122h1v1h-1zM886 122h1v1h-1zM746 123h1v1h-1zM751 123h1v1h-1zM789 123h1v1h-1zM862 123h1v1h-1zM885 123h1v1h-1zM746 124h1v1h-1zM751 124h1v1h-1zM789 124h1v1h-1zM862 124h1v1h-1zM884 124h1v1h-1zM741 125h5v1h-5zM751 125h1v1h-1zM788 125h1v1h-1zM863 125h1v1h-1zM884 125h1v1h-1zM741 126h1v1h-1zM752 126h1v1h-1zM788 126h1v1h-1zM863 126h1v1h-1zM883 126h1v1h-1zM741 127h1v1h-1zM752 127h1v1h-1zM788 127h1v1h-1zM864 127h1v1h-1zM882 127h1v1h-1zM740 128h1v1h-1zM753 128h1v1h-1zM787 128h1v1h-1zM864 128h1v1h-1zM882 128h1v1h-1zM740 129h1v1h-1zM753 129h1v1h-1zM787 129h1v1h-1zM864 129h1v1h-1zM881 129h1v1h-1zM740 130h1v1h-1zM754 130h2v1h-2zM786 130h1v1h-1zM865 130h1v1h-1zM881 130h1v1h-1zM740 131h1v1h-1zM756 131h2v1h-2zM786 131h1v1h-1zM865 131h1v1h-1zM880 131h1v1h-1zM739 132h1v1h-1zM758 132h1v1h-1zM786 132h1v1h-1zM866 132h1v1h-1zM880 132h1v1h-1zM739 133h1v1h-1zM758 133h1v1h-1zM785 133h1v1h-1zM866 133h1v1h-1zM879 133h1v1h-1zM739 134h1v1h-1zM759 134h1v1h-1zM785 134h1v1h-1zM867 134h1v1h-1zM879 134h1v1h-1zM739 135h1v1h-1zM759 135h1v1h-1zM784 135h1v1h-1zM868 135h1v1h-1zM878 135h1v1h-1zM738 136h1v1h-1zM760 136h1v1h-1zM784 136h1v1h-1zM868 136h1v1h-1zM878 136h1v1h-1zM738 137h1v1h-1zM760 137h1v1h-1zM783 137h1v1h-1zM869 137h1v1h-1zM877 137h1v1h-1zM738 138h1v1h-1zM761 138h1v1h-1zM782 138h1v1h-1zM870 138h1v1h-1zM876 138h2v1h-2zM738 139h1v1h-1zM762 139h1v1h-1zM782 139h1v1h-1zM871 139h2v1h-2zM874 139h2v1h-2zM737 140h1v1h-1zM762 140h1v1h-1zM780 140h2v1h-2zM873 140h1v1h-1zM737 141h1v1h-1zM763 141h1v1h-1zM778 141h2v1h-2zM737 142h1v1h-1zM763 142h1v1h-1zM777 142h1v1h-1zM737 143h1v1h-1zM764 143h1v1h-1zM775 143h2v1h-2zM736 144h1v1h-1zM764 144h1v1h-1zM774 144h1v1h-1zM736 145h1v1h-1zM765 145h1v1h-1zM773 145h1v1h-1zM736 146h1v1h-1zM766 146h1v1h-1zM772 146h1v1h-1zM735 147h1v1h-1zM766 147h1v1h-1zM772 147h1v1h-1zM735 148h1v1h-1zM767 148h1v1h-1zM771 148h1v1h-1zM735 149h1v1h-1zM767 149h1v1h-1zM771 149h1v1h-1zM735 150h1v1h-1zM768 150h1v1h-1zM770 150h1v1h-1zM734 151h1v1h-1zM768 151h1v1h-1zM770 151h1v1h-1zM734 152h1v1h-1zM769 152h1v1h-1zM734 153h1v1h-1zM733 154h1v1h-1zM733 155h1v1h-1zM733 156h1v1h-1zM733 157h1v1h-1zM733 158h1v1h-1zM732 159h1v1h-1zM732 160h1v1h-1zM732 161h1v1h-1zM732 162h1v1h-1zM732 163h1v1h-1zM732 164h1v1h-1zM731 165h1v1h-1zM731 166h1v1h-1zM731 167h1v1h-1zM731 168h1v1h-1zM731 169h1v1h-1zM731 170h1v1h-1zM731 171h1v1h-1zM730 172h1v1h-1zM730 173h1v1h-1zM730 174h1v1h-1zM730 175h1v1h-1zM730 176h1v1h-1zM730 177h1v1h-1zM729 178h1v1h-1zM729 179h1v1h-1zM729 180h1v1h-1zM729 181h1v1h-1zM729 182h1v1h-1zM729 183h1v1h-1zM728 184h1v1h-1zM728 185h1v1h-1zM728 186h1v1h-1zM728 187h1v1h-1zM728 188h1v1h-1zM728 189h1v1h-1zM727 190h1v1h-1zM727 191h1v1h-1zM727 192h1v1h-1zM727 193h1v1h-1zM727 194h1v1h-1zM727 195h1v1h-1zM726 196h1v1h-1zM726 197h1v1h-1zM726 198h1v1h-1zM726 199h1v1h-1zM726 200h1v1h-1zM726 201h1v1h-1zM725 202h1v1h-1zM725 203h1v1h-1zM725 204h1v1h-1zM725 205h1v1h-1zM725 206h1v1h-1zM725 207h1v1h-1zM724 208h1v1h-1zM724 209h1v1h-1zM724 210h1v1h-1zM724 211h1v1h-1zM724 212h1v1h-1zM724 213h1v1h-1zM724 214h1v1h-1zM723 215h1v1h-1zM723 216h1v1h-1zM723 217h1v1h-1zM723 218h1v1h-1zM723 219h1v1h-1zM723 220h1v1h-1zM723 221h1v1h-1zM723 222h1v1h-1zM722 223h1v1h-1zM468 224h2v1h-2zM722 224h1v1h-1zM466 225h2v1h-2zM470 225h2v1h-2zM539 225h3v1h-3zM722 225h1v1h-1zM465 226h1v1h-1zM472 226h2v1h-2zM531 226h8v1h-8zM542 226h2v1h-2zM722 226h1v1h-1zM464 227h1v1h-1zM474 227h1v1h-1zM529 227h2v1h-2zM544 227h3v1h-3zM722 227h1v1h-1zM463 228h1v1h-1zM475 228h1v1h-1zM527 228h2v1h-2zM547 228h4v1h-4zM555 228h3v1h-3zM722 228h1v1h-1zM462 229h1v1h-1zM476 229h1v1h-1zM526 229h1v1h-1zM551 229h4v1h-4zM558 229h1v1h-1zM722 229h1v1h-1zM461 230h1v1h-1zM477 230h1v1h-1zM507 230h4v1h-4zM515 230h3v1h-3zM524 230h2v1h-2zM559 230h1v1h-1zM721 230h1v1h-1zM460 231h1v1h-1zM478 231h1v1h-1zM505 231h2v1h-2zM511 231h4v1h-4zM518 231h2v1h-2zM522 231h2v1h-2zM560 231h1v1h-1zM721 231h1v1h-1zM459 232h1v1h-1zM479 232h1v1h-1zM504 232h1v1h-1zM520 232h2v1h-2zM561 232h1v1h-1zM721 232h1v1h-1zM459 233h1v1h-1zM480 233h1v1h-1zM503 233h1v1h-1zM562 233h1v1h-1zM721 233h1v1h-1zM458 234h1v1h-1zM481 234h1v1h-1zM502 234h1v1h-1zM563 234h1v1h-1zM721 234h1v1h-1zM457 235h1v1h-1zM482 235h1v1h-1zM500 235h2v1h-2zM564 235h1v1h-1zM720 235h1v1h-1zM456 236h1v1h-1zM483 236h1v1h-1zM498 236h2v1h-2zM565 236h1v1h-1zM720 236h1v1h-1zM455 237h1v1h-1zM484 237h1v1h-1zM496 237h2v1h-2zM565 237h1v1h-1zM720 237h1v1h-1zM455 238h1v1h-1zM485 238h1v1h-1zM494 238h2v1h-2zM566 238h1v1h-1zM719 238h1v1h-1zM454 239h1v1h-1zM486 239h2v1h-2zM491 239h3v1h-3zM566 239h1v1h-1zM719 239h1v1h-1zM453 240h1v1h-1zM488 240h3v1h-3zM566 240h1v1h-1zM718 240h1v1h-1zM453 241h1v1h-1zM567 241h1v1h-1zM718 241h1v1h-1zM453 242h1v1h-1zM567 242h1v1h-1zM718 242h1v1h-1zM453 243h1v1h-1zM568 243h1v1h-1zM717 243h1v1h-1zM452 244h1v1h-1zM568 244h1v1h-1zM717 244h1v1h-1zM452 245h1v1h-1zM568 245h1v1h-1zM717 245h1v1h-1zM452 246h1v1h-1zM569 246h1v1h-1zM716 246h1v1h-1zM452 247h1v1h-1zM569 247h1v1h-1zM716 247h1v1h-1zM452 248h1v1h-1zM569 248h1v1h-1zM716 248h1v1h-1zM452 249h1v1h-1zM570 249h1v1h-1zM715 249h1v1h-1zM452 250h1v1h-1zM570 250h1v1h-1zM715 250h1v1h-1zM451 251h1v1h-1zM571 251h1v1h-1zM715 251h1v1h-1zM451 252h1v1h-1zM571 252h1v1h-1zM715 252h1v1h-1zM451 253h1v1h-1zM572 253h1v1h-1zM714 253h1v1h-1zM451 254h1v1h-1zM572 254h1v1h-1zM714 254h1v1h-1zM451 255h1v1h-1zM573 255h1v1h-1zM714 255h1v1h-1zM451 256h1v1h-1zM573 256h1v1h-1zM713 256h1v1h-1zM451 257h1v1h-1zM573 257h1v1h-1zM713 257h1v1h-1zM450 258h1v1h-1zM574 258h1v1h-1zM631 258h4v1h-4zM711 258h2v1h-2zM450 259h1v1h-1zM574 259h1v1h-1zM627 259h4v1h-4zM635 259h3v1h-3zM710 259h1v1h-1zM450 260h1v1h-1zM575 260h1v1h-1zM625 260h2v1h-2zM638 260h1v1h-1zM709 260h1v1h-1zM450 261h1v1h-1zM575 261h1v1h-1zM624 261h1v1h-1zM639 261h2v1h-2zM707 261h2v1h-2zM450 262h1v1h-1zM576 262h1v1h-1zM623 262h1v1h-1zM641 262h1v1h-1zM680 262h2v1h-2zM706 262h1v1h-1zM450 263h1v1h-1zM576 263h1v1h-1zM622 263h1v1h-1zM642 263h2v1h-2zM678 263h2v1h-2zM682 263h2v1h-2zM704 263h2v1h-2zM5 264h1v1h-1zM450 264h1v1h-1zM577 264h1v1h-1zM621 264h1v1h-1zM644 264h3v1h-3zM675 264h3v1h-3zM684 264h2v1h-2zM702 264h2v1h-2zM6 265h1v1h-1zM449 265h1v1h-1zM577 265h1v1h-1zM620 265h1v1h-1zM647 265h3v1h-3zM671 265h4v1h-4zM686 265h2v1h-2zM699 265h3v1h-3zM7 266h2v1h-2zM449 266h1v1h-1zM578 266h1v1h-1zM619 266h1v1h-1zM650 266h1v1h-1zM659 266h12v1h-12zM688 266h11v1h-11zM9 267h2v1h-2zM449 267h1v1h-1zM579 267h1v1h-1zM596 267h3v1h-3zM618 267h1v1h-1zM651 267h2v1h-2zM655 267h4v1h-4zM11 268h7v1h-7zM449 268h1v1h-1zM580 268h1v1h-1zM594 268h2v1h-2zM599 268h3v1h-3zM612 268h6v1h-6zM653 268h2v1h-2zM18 269h2v1h-2zM449 269h1v1h-1zM581 269h1v1h-1zM589 269h5v1h-5zM602 269h2v1h-2zM610 269h2v1h-2zM20 270h3v1h-3zM449 270h1v1h-1zM582 270h1v1h-1zM588 270h1v1h-1zM604 270h6v1h-6zM23 271h3v1h-3zM449 271h1v1h-1zM583 271h1v1h-1zM587 271h1v1h-1zM26 272h2v1h-2zM448 272h1v1h-1zM584 272h1v1h-1zM586 272h1v1h-1zM28 273h2v1h-2zM448 273h1v1h-1zM585 273h1v1h-1zM30 274h1v1h-1zM448 274h1v1h-1zM31 275h1v1h-1zM448 275h1v1h-1zM32 276h1v1h-1zM448 276h1v1h-1zM33 277h1v1h-1zM448 277h1v1h-1zM34 278h1v1h-1zM447 278h1v1h-1zM34 279h1v1h-1zM447 279h1v1h-1zM35 280h1v1h-1zM447 280h1v1h-1zM35 281h1v1h-1zM447 281h1v1h-1zM36 282h1v1h-1zM447 282h1v1h-1zM36 283h1v1h-1zM447 283h1v1h-1zM37 284h1v1h-1zM447 284h1v1h-1zM37 285h1v1h-1zM446 285h1v1h-1zM37 286h1v1h-1zM446 286h1v1h-1zM38 287h1v1h-1zM446 287h1v1h-1zM38 288h1v1h-1zM446 288h1v1h-1zM38 289h1v1h-1zM446 289h1v1h-1zM39 290h1v1h-1zM446 290h1v1h-1zM39 291h1v1h-1zM445 291h1v1h-1zM39 292h1v1h-1zM445 292h1v1h-1zM40 293h1v1h-1zM445 293h1v1h-1zM40 294h1v1h-1zM445 294h1v1h-1zM40 295h1v1h-1zM445 295h1v1h-1zM41 296h1v1h-1zM445 296h1v1h-1zM41 297h1v1h-1zM444 297h1v1h-1zM41 298h1v1h-1zM444 298h1v1h-1zM42 299h1v1h-1zM444 299h1v1h-1zM42 300h1v1h-1zM444 300h1v1h-1zM42 301h1v1h-1zM444 301h1v1h-1zM42 302h1v1h-1zM444 302h1v1h-1zM43 303h1v1h-1zM443 303h1v1h-1zM43 304h1v1h-1zM443 304h1v1h-1zM43 305h1v1h-1zM443 305h1v1h-1zM44 306h1v1h-1zM443 306h1v1h-1zM44 307h1v1h-1zM443 307h1v1h-1zM44 308h1v1h-1zM443 308h1v1h-1zM44 309h1v1h-1zM442 309h1v1h-1zM45 310h1v1h-1zM442 310h1v1h-1zM45 311h1v1h-1zM442 311h1v1h-1zM45 312h1v1h-1zM442 312h1v1h-1zM46 313h1v1h-1zM442 313h1v1h-1zM46 314h1v1h-1zM442 314h1v1h-1zM46 315h1v1h-1zM441 315h1v1h-1zM47 316h1v1h-1zM441 316h1v1h-1zM47 317h1v1h-1zM441 317h1v1h-1zM47 318h1v1h-1zM441 318h1v1h-1zM48 319h1v1h-1zM87 319h3v1h-3zM441 319h1v1h-1zM48 320h1v1h-1zM81 320h6v1h-6zM90 320h1v1h-1zM440 320h1v1h-1zM48 321h1v1h-1zM80 321h1v1h-1zM90 321h1v1h-1zM440 321h1v1h-1zM49 322h1v1h-1zM80 322h1v1h-1zM91 322h1v1h-1zM440 322h1v1h-1zM49 323h1v1h-1zM79 323h1v1h-1zM91 323h1v1h-1zM440 323h1v1h-1zM49 324h1v1h-1zM79 324h1v1h-1zM92 324h1v1h-1zM440 324h1v1h-1zM50 325h1v1h-1zM78 325h1v1h-1zM92 325h1v1h-1zM440 325h1v1h-1zM50 326h1v1h-1zM78 326h1v1h-1zM93 326h1v1h-1zM439 326h1v1h-1zM50 327h1v1h-1zM77 327h1v1h-1zM94 327h1v1h-1zM439 327h1v1h-1zM51 328h1v1h-1zM76 328h1v1h-1zM94 328h1v1h-1zM439 328h1v1h-1zM51 329h1v1h-1zM75 329h1v1h-1zM95 329h1v1h-1zM439 329h1v1h-1zM51 330h1v1h-1zM75 330h1v1h-1zM95 330h1v1h-1zM439 330h1v1h-1zM51 331h1v1h-1zM74 331h1v1h-1zM96 331h1v1h-1zM438 331h1v1h-1zM52 332h1v1h-1zM73 332h1v1h-1zM96 332h1v1h-1zM149 332h17v1h-17zM438 332h1v1h-1zM52 333h1v1h-1zM72 333h1v1h-1zM97 333h1v1h-1zM148 333h1v1h-1zM166 333h1v1h-1zM438 333h1v1h-1zM52 334h1v1h-1zM71 334h1v1h-1zM98 334h1v1h-1zM147 334h1v1h-1zM167 334h1v1h-1zM438 334h1v1h-1zM53 335h1v1h-1zM71 335h1v1h-1zM98 335h1v1h-1zM147 335h1v1h-1zM168 335h1v1h-1zM438 335h1v1h-1zM53 336h1v1h-1zM70 336h1v1h-1zM99 336h1v1h-1zM146 336h1v1h-1zM169 336h5v1h-5zM438 336h1v1h-1zM54 337h1v1h-1zM69 337h1v1h-1zM99 337h1v1h-1zM143 337h3v1h-3zM174 337h1v1h-1zM437 337h1v1h-1zM54 338h1v1h-1zM68 338h1v1h-1zM100 338h1v1h-1zM141 338h2v1h-2zM175 338h2v1h-2zM437 338h1v1h-1zM55 339h1v1h-1zM67 339h1v1h-1zM100 339h1v1h-1zM140 339h1v1h-1zM177 339h1v1h-1zM437 339h1v1h-1zM55 340h1v1h-1zM67 340h1v1h-1zM101 340h1v1h-1zM139 340h1v1h-1zM177 340h1v1h-1zM437 340h1v1h-1zM56 341h1v1h-1zM66 341h1v1h-1zM101 341h1v1h-1zM138 341h1v1h-1zM178 341h1v1h-1zM437 341h1v1h-1zM56 342h1v1h-1zM65 342h1v1h-1zM102 342h1v1h-1zM137 342h1v1h-1zM178 342h1v1h-1zM437 342h1v1h-1zM57 343h1v1h-1zM64 343h1v1h-1zM102 343h1v1h-1zM136 343h1v1h-1zM179 343h1v1h-1zM436 343h1v1h-1zM58 344h1v1h-1zM63 344h1v1h-1zM103 344h1v1h-1zM135 344h1v1h-1zM179 344h1v1h-1zM436 344h1v1h-1zM59 345h2v1h-2zM62 345h1v1h-1zM104 345h1v1h-1zM134 345h1v1h-1zM179 345h1v1h-1zM436 345h1v1h-1zM61 346h1v1h-1zM104 346h1v1h-1zM133 346h1v1h-1zM180 346h1v1h-1zM436 346h1v1h-1zM105 347h1v1h-1zM133 347h1v1h-1zM180 347h1v1h-1zM436 347h1v1h-1zM105 348h1v1h-1zM132 348h1v1h-1zM181 348h1v1h-1zM436 348h1v1h-1zM106 349h1v1h-1zM132 349h1v1h-1zM181 349h1v1h-1zM435 349h1v1h-1zM106 350h1v1h-1zM131 350h1v1h-1zM182 350h1v1h-1zM435 350h1v1h-1zM106 351h1v1h-1zM131 351h1v1h-1zM182 351h1v1h-1zM435 351h1v1h-1zM107 352h1v1h-1zM130 352h1v1h-1zM183 352h1v1h-1zM435 352h1v1h-1zM107 353h1v1h-1zM130 353h1v1h-1zM183 353h1v1h-1zM435 353h1v1h-1zM108 354h1v1h-1zM129 354h1v1h-1zM184 354h1v1h-1zM435 354h1v1h-1zM108 355h1v1h-1zM129 355h1v1h-1zM184 355h1v1h-1zM435 355h1v1h-1zM108 356h1v1h-1zM128 356h1v1h-1zM185 356h1v1h-1zM434 356h1v1h-1zM109 357h1v1h-1zM127 357h1v1h-1zM185 357h1v1h-1zM434 357h1v1h-1zM109 358h1v1h-1zM127 358h1v1h-1zM186 358h1v1h-1zM434 358h1v1h-1zM110 359h1v1h-1zM126 359h1v1h-1zM186 359h1v1h-1zM434 359h1v1h-1zM110 360h1v1h-1zM125 360h1v1h-1zM187 360h1v1h-1zM434 360h1v1h-1zM111 361h1v1h-1zM124 361h1v1h-1zM187 361h1v1h-1zM412 361h2v1h-2zM434 361h1v1h-1zM112 362h1v1h-1zM123 362h1v1h-1zM188 362h1v1h-1zM410 362h2v1h-2zM414 362h1v1h-1zM433 362h1v1h-1zM112 363h1v1h-1zM122 363h1v1h-1zM188 363h1v1h-1zM408 363h2v1h-2zM415 363h1v1h-1zM433 363h1v1h-1zM113 364h9v1h-9zM189 364h1v1h-1zM406 364h2v1h-2zM416 364h1v1h-1zM419 364h12v1h-12zM433 364h1v1h-1zM189 365h1v1h-1zM405 365h1v1h-1zM417 365h2v1h-2zM431 365h3v1h-3zM189 366h1v1h-1zM403 366h2v1h-2zM190 367h1v1h-1zM402 367h1v1h-1zM190 368h1v1h-1zM401 368h1v1h-1zM191 369h1v1h-1zM400 369h1v1h-1zM191 370h1v1h-1zM311 370h4v1h-4zM399 370h1v1h-1zM191 371h1v1h-1zM245 371h2v1h-2zM304 371h7v1h-7zM315 371h4v1h-4zM398 371h1v1h-1zM192 372h1v1h-1zM244 372h1v1h-1zM247 372h3v1h-3zM302 372h2v1h-2zM319 372h3v1h-3zM397 372h1v1h-1zM192 373h1v1h-1zM243 373h1v1h-1zM250 373h1v1h-1zM301 373h1v1h-1zM322 373h1v1h-1zM396 373h1v1h-1zM193 374h1v1h-1zM242 374h1v1h-1zM251 374h2v1h-2zM300 374h1v1h-1zM323 374h1v1h-1zM396 374h1v1h-1zM193 375h1v1h-1zM241 375h1v1h-1zM253 375h2v1h-2zM299 375h1v1h-1zM324 375h1v1h-1zM395 375h1v1h-1zM193 376h1v1h-1zM239 376h2v1h-2zM255 376h3v1h-3zM298 376h1v1h-1zM325 376h2v1h-2zM395 376h1v1h-1zM194 377h1v1h-1zM238 377h1v1h-1zM258 377h2v1h-2zM297 377h1v1h-1zM327 377h4v1h-4zM394 377h1v1h-1zM194 378h1v1h-1zM236 378h2v1h-2zM260 378h2v1h-2zM296 378h1v1h-1zM331 378h3v1h-3zM352 378h7v1h-7zM394 378h1v1h-1zM194 379h1v1h-1zM234 379h2v1h-2zM262 379h1v1h-1zM271 379h3v1h-3zM295 379h1v1h-1zM334 379h2v1h-2zM350 379h2v1h-2zM359 379h3v1h-3zM393 379h1v1h-1zM195 380h1v1h-1zM232 380h2v1h-2zM263 380h2v1h-2zM267 380h4v1h-4zM274 380h1v1h-1zM294 380h1v1h-1zM336 380h3v1h-3zM347 380h3v1h-3zM362 380h2v1h-2zM392 380h1v1h-1zM195 381h1v1h-1zM230 381h2v1h-2zM265 381h2v1h-2zM275 381h1v1h-1zM287 381h7v1h-7zM339 381h8v1h-8zM364 381h3v1h-3zM392 381h1v1h-1zM195 382h1v1h-1zM229 382h1v1h-1zM276 382h1v1h-1zM283 382h4v1h-4zM367 382h3v1h-3zM391 382h1v1h-1zM196 383h1v1h-1zM227 383h2v1h-2zM277 383h6v1h-6zM370 383h1v1h-1zM390 383h1v1h-1zM196 384h1v1h-1zM226 384h1v1h-1zM370 384h1v1h-1zM390 384h1v1h-1zM196 385h1v1h-1zM225 385h1v1h-1zM371 385h1v1h-1zM388 385h2v1h-2zM197 386h1v1h-1zM223 386h2v1h-2zM372 386h1v1h-1zM386 386h2v1h-2zM197 387h1v1h-1zM222 387h1v1h-1zM372 387h1v1h-1zM383 387h3v1h-3zM198 388h2v1h-2zM221 388h1v1h-1zM373 388h10v1h-10zM200 389h2v1h-2zM219 389h2v1h-2zM202 390h1v1h-1zM218 390h1v1h-1zM202 391h1v1h-1zM217 391h1v1h-1zM203 392h1v1h-1zM216 392h1v1h-1zM204 393h1v1h-1zM215 393h1v1h-1zM204 394h1v1h-1zM215 394h1v1h-1zM205 395h1v1h-1zM214 395h1v1h-1zM206 396h2v1h-2zM211 396h3v1h-3zM208 397h3v1h-3z" fill="#0000cd"/>
<rect x="5" y="260" width="1" height="14" fill="#32cd32"/>
<rect x="4" y="261" width="3" height="12" fill="#32cd32"/>
<rect x="9" y="269" width="1" height="8" fill="#32cd32"/>
<rect x="8" y="272" width="3" height="3" fill="#32cd32"/>
<rect x="13" y="265" width="1" height="16" fill="#ff0000"/>
<rect x="12" y="266" width="3" height="11" fill="#ff0000"/>
<rect x="13" y="267" width="1" height="9" fill="#ff4500"/>
<rect x="17" y="254" width="1" height="17" fill="#ff0000"/>
<rect x="16" y="263" width="3" height="5" fill="#ff0000"/>
<rect x="17" y="264" width="1" height="3" fill="#ff4500"/>
<rect x="21" y="261" width="1" height="13" fill="#32cd32"/>
<rect x="20" y="263" width="3" height="11" fill="#32cd32"/>
<rect x="25" y="271" width="1" height="7" fill="#32cd32"/>
<rect x="24" y="271" width="3" height="7" fill="#32cd32"/>
<rect x="29" y="275" width="1" height="16" fill="#32cd32"/>
<rect x="28" y="277" width="3" height="12" fill="#32cd32"/>
<rect x="33" y="273" width="1" height="19" fill="#ff0000"/>
<rect x="32" y="282" width="3" height="7" fill="#ff0000"/>
<rect x="33" y="283" width="1" height="5" fill="#ff4500"/>
<rect x="37" y="281" width="1" height="33" fill="#32cd32"/>
<rect x="36" y="282" width="3" height="26" fill="#32cd32"/>
<rect x="41" y="303" width="1" height="33" fill="#32cd32"/>
<rect x="40" y="304" width="3" height="27" fill="#32cd32"/>
<rect x="45" y="324" width="1" height="42" fill="#32cd32"/>
<rect x="44" y="329" width="3" height="22" fill="#32cd32"/>
<rect x="49" y="345" width="1" height="7" fill="#ff0000"/>
<rect x="48" y="348" width="3" height="3" fill="#ff0000"/>
<rect x="49" y="349" width="1" height="1" fill="#ff4500"/>
<rect x="53" y="337" width="1" height="28" fill="#ff0000"/>
<rect x="52" y="345" width="3" height="5" fill="#ff0000"/>
<rect x="53" y="346" width="1" height="3" fill="#ff4500"/>
<rect x="57" y="337" width="1" height="25" fill="#ff0000"/>
<rect x="56" y="342" width="3" height="5" fill="#ff0000"/>
<rect x="57" y="343" width="1" height="3" fill="#ff4500"/>
<rect x="61" y="329" width="1" height="21" fill="#32cd32"/>
<rect x="60" y="342" width="3" height="6" fill="#32cd32"/>
<rect x="65" y="325" width="1" height="30" fill="#ff0000"/>
<rect x="64" y="326" width="3" height="22" fill="#ff0000"/>
<rect x="65" y="327" width="1" height="20" fill="#ff4500"/>
<rect x="69" y="326" width="1" height="20" fill="#ff0000"/>
<rect x="68" y="326" width="3" height="2" fill="#ff0000"/>
<rect x="73" y="316" width="1" height="12" fill="#ff0000"/>
<rect x="72" y="318" width="3" height="10" fill="#ff0000"/>
<rect x="73" y="319" width="1" height="8" fill="#ff4500"/>
<rect x="77" y="314" width="1" height="14" fill="#32cd32"/>
<rect x="76" y="318" width="3" height="3" fill="#32cd32"/>
<rect x="81" y="307" width="1" height="17" fill="#ff0000"/>
<rect x="80" y="312" width="3" height="9" fill="#ff0000"/>
<rect x="81" y="313" width="1" height="7" fill="#ff4500"/>
<rect x="85" y="308" width="1" height="24" fill="#32cd32"/>
<rect x="84" y="312" width="3" height="13" fill="#32cd32"/>
<rect x="89" y="314" width="1" height="22" fill="#ff0000"/>
<rect x="88" y="322" width="3" height="3" fill="#ff0000"/>
<rect x="89" y="323" width="1" height="1" fill="#ff4500"/>
<rect x="93" y="318" width="1" height="37" fill="#32cd32"/>
<rect x="92" y="322" width="3" height="31" fill="#32cd32"/>
<rect x="97" y="350" width="1" height="6" fill="#32cd32"/>
<rect x="96" y="351" width="3" height="4" fill="#32cd32"/>
<rect x="101" y="347" width="1" height="21" fill="#ff0000"/>
<rect x="100" y="351" width="3" height="3" fill="#ff0000"/>
<rect x="101" y="352" width="1" height="1" fill="#ff4500"/>
<rect x="105" y="345" width="1" height="14" fill="#32cd32"/>
<rect x="104" y="351" width="3" height="8" fill="#32cd32"/>
<rect x="109" y="356" width="1" height="18" fill="#32cd32"/>
<rect x="108" y="357" width="3" height="17" fill="#32cd32"/>
<rect x="113" y="368" width="1" height="23" fill="#32cd32"/>
<rect x="112" y="372" width="3" height="14" fill="#32cd32"/>
<rect x="117" y="353" width="1" height="36" fill="#ff0000"/>
<rect x="116" y="354" width="3" height="33" fill="#ff0000"/>
<rect x="117" y="355" width="1" height="31" fill="#ff4500"/>
<rect x="121" y="350" width="1" height="8" fill="#ff0000"/>
<rect x="120" y="351" width="3" height="5" fill="#ff0000"/>
<rect x="121" y="352" width="1" height="3" fill="#ff4500"/>
<rect x="125" y="330" width="1" height="27" fill="#ff0000"/>
<rect x="124" y="337" width="3" height="17" fill="#ff0000"/>
<rect x="125" y="338" width="1" height="15" fill="#ff4500"/>
<rect x="129" y="332" width="1" height="20" fill="#32cd32"/>
<rect x="128" y="336" width="3" height="12" fill="#32cd32"/>
<rect x="133" y="337" width="1" height="15" fill="#ff0000"/>
<rect x="132" y="339" width="3" height="9" fill="#ff0000"/>
<rect x="133" y="340" width="1" height="7" fill="#ff4500"/>
<rect x="137" y="331" width="1" height="12" fill="#ff0000"/>
<rect x="136" y="336" width="3" height="5" fill="#ff0000"/>
<rect x="137" y="337" width="1" height="3" fill="#ff4500"/>
<rect x="141" y="324" width="1" height="15" fill="#ff0000"/>
<rect x="140" y="333" width="3" height="5" fill="#ff0000"/>
<rect x="141" y="334" width="1" height="3" fill="#ff4500"/>
<rect x="145" y="330" width="1" height="5" fill="#ff0000"/>
<rect x="144" y="332" width="3" height="3" fill="#ff0000"/>
<rect x="145" y="333" width="1" height="1" fill="#ff4500"/>
<rect x="149" y="319" width="1" height="28" fill="#ff0000"/>
<rect x="148" y="320" width="3" height="13" fill="#ff0000"/>
<rect x="149" y="321" width="1" height="11" fill="#ff4500"/>
<rect x="153" y="314" width="1" height="25" fill="#32cd32"/>
<rect x="152" y="320" width="3" height="19" fill="#32cd32"/>
<rect x="157" y="334" width="1" height="17" fill="#ff0000"/>
<rect x="156" y="337" width="3" height="2" fill="#ff0000"/>
<rect x="161" y="328" width="1" height="20" fill="#ff0000"/>
<rect x="160" y="331" width="3" height="8" fill="#ff0000"/>
<rect x="161" y="332" width="1" height="6" fill="#ff4500"/>
<rect x="165" y="325" width="1" height="14" fill="#32cd32"/>
<rect x="164" y="331" width="3" height="4" fill="#32cd32"/>
<rect x="169" y="333" width="1" height="10" fill="#32cd32"/>
<rect x="168" y="334" width="3" height="9" fill="#32cd32"/>
<rect x="173" y="337" width="1" height="13" fill="#ff0000"/>
<rect x="172" y="338" width="3" height="5" fill="#ff0000"/>
<rect x="173" y="339" width="1" height="3" fill="#ff4500"/>
<rect x="177" y="331" width="1" height="18" fill="#32cd32"/>
<rect x="176" y="338" width="3" height="11" fill="#32cd32"/>
<rect x="181" y="345" width="1" height="37" fill="#32cd32"/>
<rect x="180" y="345" width="3" height="37" fill="#32cd32"/>
<rect x="185" y="372" width="1" height="29" fill="#ff0000"/>
<rect x="184" y="374" width="3" height="8" fill="#ff0000"/>
<rect x="185" y="375" width="1" height="6" fill="#ff4500"/>
<rect x="189" y="367" width="1" height="18" fill="#32cd32"/>
<rect x="188" y="374" width="3" height="9" fill="#32cd32"/>
<rect x="193" y="381" width="1" height="11" fill="#32cd32"/>
<rect x="192" y="381" width="3" height="11" fill="#32cd32"/>
<rect x="197" y="392" width="1" height="19" fill="#32cd32"/>
<rect x="196" y="396" width="3" height="10" fill="#32cd32"/>
<rect x="201" y="387" width="1" height="20" fill="#ff0000"/>
<rect x="200" y="395" width="3" height="12" fill="#ff0000"/>
<rect x="201" y="396" width="1" height="10" fill="#ff4500"/>
<rect x="205" y="394" width="1" height="15" fill="#32cd32"/>
<rect x="204" y="394" width="3" height="8" fill="#32cd32"/>
<rect x="209" y="392" width="1" height="18" fill="#ff0000"/>
<rect x="208" y="394" width="3" height="8" fill="#ff0000"/>
<rect x="209" y="395" width="1" height="6" fill="#ff4500"/>
<rect x="213" y="381" width="1" height="17" fill="#ff0000"/>
<rect x="212" y="384" width="3" height="12" fill="#ff0000"/>
<rect x="213" y="385" width="1" height="10" fill="#ff4500"/>
<rect x="217" y="378" width="1" height="8" fill="#ff0000"/>
<rect x="216" y="379" width="3" height="7" fill="#ff0000"/>
<rect x="217" y="380" width="1" height="5" fill="#ff4500"/>
<rect x="221" y="382" width="1" height="20" fill="#ff0000"/>
<rect x="220" y="383" width="3" height="9" fill="#ff0000"/>
<rect x="221" y="384" width="1" height="7" fill="#ff4500"/>
<rect x="225" y="382" width="1" height="11" fill="#32cd32"/>
<rect x="224" y="384" width="3" height="3" fill="#32cd32"/>
<rect x="229" y="371" width="1" height="20" fill="#ff0000"/>
<rect x="228" y="379" width="3" height="7" fill="#ff0000"/>
<rect x="229" y="380" width="1" height="5" fill="#ff4500"/>
<rect x="233" y="372" width="1" height="11" fill="#ff0000"/>
<rect x="232" y="373" width="3" height="8" fill="#ff0000"/>
<rect x="233" y="374" width="1" height="6" fill="#ff4500"/>
<rect x="237" y="364" width="1" height="10" fill="#ff0000"/>
<rect x="236" y="370" width="3" height="4" fill="#ff0000"/>
<rect x="237" y="371" width="1" height="2" fill="#ff4500"/>
<rect x="241" y="368" width="1" height="5" fill="#ff0000"/>
<rect x="240" y="368" width="3" height="4" fill="#ff0000"/>
<rect x="241" y="369" width="1" height="2" fill="#ff4500"/>
<rect x="245" y="366" width="1" height="7" fill="#ff0000"/>
<rect x="244" y="366" width="3" height="4" fill="#ff0000"/>
<rect x="245" y="367" width="1" height="2" fill="#ff4500"/>
<rect x="249" y="366" width="1" height="18" fill="#32cd32"/>
<rect x="248" y="366" width="3" height="18" fill="#32cd32"/>
<rect x="253" y="376" width="1" height="12" fill="#32cd32"/>
<rect x="252" y="382" width="3" height="5" fill="#32cd32"/>
<rect x="257" y="366" width="1" height="26" fill="#ff0000"/>
<rect x="256" y="375" width="3" height="12" fill="#ff0000"/>
<rect x="257" y="376" width="1" height="10" fill="#ff4500"/>
<rect x="261" y="368" width="1" height="16" fill="#32cd32"/>
<rect x="260" y="374" width="3" height="9" fill="#32cd32"/>
<rect x="265" y="380" width="1" height="4" fill="#32cd32"/>
<rect x="264" y="380" width="3" height="2" fill="#32cd32"/>
<rect x="269" y="374" width="1" height="10" fill="#ff0000"/>
<rect x="268" y="376" width="3" height="7" fill="#ff0000"/>
<rect x="269" y="377" width="1" height="5" fill="#ff4500"/>
<rect x="273" y="373" width="1" height="11" fill="#32cd32"/>
<rect x="272" y="376" width="3" height="7" fill="#32cd32"/>
<rect x="277" y="375" width="1" height="20" fill="#32cd32"/>
<rect x="276" y="381" width="3" height="12" fill="#32cd32"/>
<rect x="281" y="384" width="1" height="29" fill="#ff0000"/>
<rect x="280" y="386" width="3" height="7" fill="#ff0000"/>
<rect x="281" y="387" width="1" height="5" fill="#ff4500"/>
<rect x="285" y="372" width="1" height="20" fill="#ff0000"/>
<rect x="284" y="373" width="3" height="15" fill="#ff0000"/>
<rect x="285" y="374" width="1" height="13" fill="#ff4500"/>
<rect x="289" y="371" width="1" height="5" fill="#ff0000"/>
<rect x="288" y="372" width="3" height="2" fill="#ff0000"/>
<rect x="293" y="369" width="1" height="15" fill="#32cd32"/>
<rect x="292" y="371" width="3" height="11" fill="#32cd32"/>
<rect x="297" y="374" width="1" height="14" fill="#ff0000"/>
<rect x="296" y="375" width="3" height="7" fill="#ff0000"/>
<rect x="297" y="376" width="1" height="5" fill="#ff4500"/>
<rect x="301" y="363" width="1" height="18" fill="#ff0000"/>
<rect x="300" y="363" width="3" height="16" fill="#ff0000"/>
<rect x="301" y="364" width="1" height="14" fill="#ff4500"/>
<rect x="305" y="356" width="1" height="16" fill="#ff0000"/>
<rect x="304" y="362" width="3" height="3" fill="#ff0000"/>
<rect x="305" y="363" width="1" height="1" fill="#ff4500"/>
<rect x="309" y="359" width="1" height="25" fill="#32cd32"/>
<rect x="308" y="362" width="3" height="15" fill="#32cd32"/>
<rect x="313" y="374" width="1" height="5" fill="#ff0000"/>
<rect x="312" y="375" width="3" height="2" fill="#ff0000"/>
<rect x="317" y="377" width="1" height="10" fill="#ff0000"/>
<rect x="316" y="377" width="3" height="6" fill="#ff0000"/>
<rect x="317" y="378" width="1" height="4" fill="#ff4500"/>
<rect x="321" y="368" width="1" height="11" fill="#ff0000"/>
<rect x="320" y="369" width="3" height="10" fill="#ff0000"/>
<rect x="321" y="370" width="1" height="8" fill="#ff4500"/>
<rect x="325" y="369" width="1" height="18" fill="#32cd32"/>
<rect x="324" y="369" width="3" height="14" fill="#32cd32"/>
<rect x="329" y="373" width="1" height="12" fill="#ff0000"/>
<rect x="328" y="380" width="3" height="3" fill="#ff0000"/>
<rect x="329" y="381" width="1" height="1" fill="#ff4500"/>
<rect x="333" y="378" width="1" height="12" fill="#32cd32"/>
<rect x="332" y="380" width="3" height="4" fill="#32cd32"/>
<rect x="337" y="382" width="1" height="4" fill="#32cd32"/>
<rect x="336" y="382" width="3" height="4" fill="#32cd32"/>
<rect x="341" y="371" width="1" height="15" fill="#ff0000"/>
<rect x="340" y="377" width="3" height="8" fill="#ff0000"/>
<rect x="341" y="378" width="1" height="6" fill="#ff4500"/>
<rect x="345" y="375" width="1" height="9" fill="#32cd32"/>
<rect x="344" y="377" width="3" height="4" fill="#32cd32"/>
<rect x="349" y="372" width="1" height="9" fill="#ff0000"/>
<rect x="348" y="376" width="3" height="5" fill="#ff0000"/>
<rect x="349" y="377" width="1" height="3" fill="#ff4500"/>
<rect x="353" y="370" width="1" height="11" fill="#ff0000"/>
<rect x="352" y="370" width="3" height="7" fill="#ff0000"/>
<rect x="353" y="371" width="1" height="5" fill="#ff4500"/>
<rect x="357" y="369" width="1" height="21" fill="#32cd32"/>
<rect x="356" y="370" width="3" height="16" fill="#32cd32"/>
<rect x="361" y="384" width="1" height="3" fill="#32cd32"/>
<rect x="360" y="384" width="3" height="3" fill="#32cd32"/>
<rect x="365" y="382" width="1" height="6" fill="#32cd32"/>
<rect x="364" y="386" width="3" height="2" fill="#32cd32"/>
<rect x="369" y="380" width="1" height="10" fill="#ff0000"/>
<rect x="368" y="381" width="3" height="8" fill="#ff0000"/>
<rect x="369" y="382" width="1" height="6" fill="#ff4500"/>
<rect x="373" y="380" width="1" height="25" fill="#32cd32"/>
<rect x="372" y="381" width="3" height="22" fill="#32cd32"/>
<rect x="377" y="384" width="1" height="25" fill="#ff0000"/>
<rect x="376" y="386" width="3" height="17" fill="#ff0000"/>
<rect x="377" y="387" width="1" height="15" fill="#ff4500"/>
<rect x="381" y="383" width="1" height="4" fill="#32cd32"/>
<rect x="380" y="385" width="3" height="2" fill="#32cd32"/>
<rect x="385" y="377" width="1" height="15" fill="#ff0000"/>
<rect x="384" y="381" width="3" height="10" fill="#ff0000"/>
<rect x="385" y="382" width="1" height="8" fill="#ff4500"/>
<rect x="389" y="369" width="1" height="16" fill="#ff0000"/>
<rect x="388" y="372" width="3" height="11" fill="#ff0000"/>
<rect x="389" y="373" width="1" height="9" fill="#ff4500"/>
<rect x="393" y="368" width="1" height="9" fill="#ff0000"/>
<rect x="392" y="369" width="3" height="5" fill="#ff0000"/>
<rect x="393" y="370" width="1" height="3" fill="#ff4500"/>
<rect x="397" y="349" width="1" height="22" fill="#ff0000"/>
<rect x="396" y="353" width="3" height="18" fill="#ff0000"/>
<rect x="397" y="354" width="1" height="16" fill="#ff4500"/>
<rect x="401" y="352" width="1" height="21" fill="#32cd32"/>
<rect x="400" y="352" width="3" height="15" fill="#32cd32"/>
<rect x="405" y="364" width="1" height="3" fill="#ff0000"/>
<rect x="404" y="364" width="3" height="3" fill="#ff0000"/>
<rect x="405" y="365" width="1" height="1" fill="#ff4500"/>
<rect x="409" y="359" width="1" height="10" fill="#ff0000"/>
<rect x="408" y="362" width="3" height="4" fill="#ff0000"/>
<rect x="409" y="363" width="1" height="2" fill="#ff4500"/>
<rect x="413" y="356" width="1" height="12" fill="#ff0000"/>
<rect x="412" y="361" width="3" height="3" fill="#ff0000"/>
<rect x="413" y="362" width="1" height="1" fill="#ff4500"/>
<rect x="417" y="361" width="1" height="14" fill="#32cd32"/>
<rect x="416" y="361" width="3" height="13" fill="#32cd32"/>
<rect x="421" y="357" width="1" height="23" fill="#ff0000"/>
<rect x="420" y="358" width="3" height="16" fill="#ff0000"/>
<rect x="421" y="359" width="1" height="14" fill="#ff4500"/>
<rect x="425" y="355" width="1" height="13" fill="#32cd32"/>
<rect x="424" y="358" width="3" height="7" fill="#32cd32"/>
<rect x="429" y="363" width="1" height="4" fill="#32cd32"/>
<rect x="428" y="363" width="3" height="3" fill="#32cd32"/>
<rect x="432" y="364" width="3" height="1" fill="#000"/>
<rect x="437" y="238" width="1" height="38" fill="#ff0000"/>
<rect x="436" y="242" width="3" height="29" fill="#ff0000"/>
<rect x="437" y="243" width="1" height="27" fill="#ff4500"/>
<rect x="441" y="237" width="1" height="24" fill="#32cd32"/>
<rect x="440" y="242" width="3" height="9" fill="#32cd32"/>
<rect x="445" y="238" width="1" height="19" fill="#ff0000"/>
<rect x="444" y="247" width="3" height="4" fill="#ff0000"/>
<rect x="445" y="248" width="1" height="2" fill="#ff4500"/>
<rect x="449" y="239" width="1" height="12" fill="#ff0000"/>
<rect x="448" y="239" width="3" height="12" fill="#ff0000"/>
<rect x="449" y="240" width="1" height="10" fill="#ff4500"/>
<rect x="453" y="216" width="1" height="26" fill="#ff0000"/>
<rect x="452" y="221" width="3" height="19" fill="#ff0000"/>
<rect x="453" y="222" width="1" height="17" fill="#ff4500"/>
<rect x="457" y="219" width="1" height="3" fill="#ff0000"/>
<rect x="456" y="219" width="3" height="3" fill="#ff0000"/>
<rect x="457" y="220" width="1" height="1" fill="#ff4500"/>
<rect x="461" y="218" width="1" height="17" fill="#32cd32"/>
<rect x="460" y="220" width="3" height="4" fill="#32cd32"/>
<rect x="465" y="218" width="1" height="20" fill="#32cd32"/>
<rect x="464" y="222" width="3" height="7" fill="#32cd32"/>
<rect x="469" y="222" width="1" height="14" fill="#32cd32"/>
<rect x="468" y="226" width="3" height="3" fill="#32cd32"/>
<rect x="473" y="220" width="1" height="13" fill="#32cd32"/>
<rect x="472" y="226" width="3" height="7" fill="#32cd32"/>
<rect x="477" y="227" width="1" height="19" fill="#32cd32"/>
<rect x="476" y="231" width="3" height="9" fill="#32cd32"/>
<rect x="481" y="238" width="1" height="4" fill="#32cd32"/>
<rect x="480" y="238" width="3" height="4" fill="#32cd32"/>
<rect x="485" y="240" width="1" height="13" fill="#32cd32"/>
<rect x="484" y="241" width="3" height="8" fill="#32cd32"/>
<rect x="489" y="229" width="1" height="20" fill="#ff0000"/>
<rect x="488" y="239" width="3" height="9" fill="#ff0000"/>
<rect x="489" y="240" width="1" height="7" fill="#ff4500"/>
<rect x="493" y="223" width="1" height="18" fill="#ff0000"/>
<rect x="492" y="226" width="3" height="15" fill="#ff0000"/>
<rect x="493" y="227" width="1" height="13" fill="#ff4500"/>
<rect x="497" y="225" width="1" height="13" fill="#32cd32"/>
<rect x="496" y="226" width="3" height="8" fill="#32cd32"/>
<rect x="501" y="217" width="1" height="18" fill="#ff0000"/>
<rect x="500" y="228" width="3" height="6" fill="#ff0000"/>
<rect x="501" y="229" width="1" height="4" fill="#ff4500"/>
<rect x="505" y="226" width="1" height="5" fill="#32cd32"/>
<rect x="504" y="227" width="3" height="3" fill="#32cd32"/>
<rect x="509" y="224" width="1" height="17" fill="#32cd32"/>
<rect x="508" y="228" width="3" height="6" fill="#32cd32"/>
<rect x="513" y="227" width="1" height="15" fill="#ff0000"/>
<rect x="512" y="230" width="3" height="4" fill="#ff0000"/>
<rect x="513" y="231" width="1" height="2" fill="#ff4500"/>
<rect x="517" y="229" width="1" height="12" fill="#ff0000"/>
<rect x="516" y="231" width="3" height="3" fill="#ff0000"/>
<rect x="517" y="232" width="1" height="1" fill="#ff4500"/>
<rect x="521" y="228" width="1" height="9" fill="#32cd32"/>
<rect x="520" y="231" width="3" height="5" fill="#32cd32"/>
<rect x="525" y="208" width="1" height="29" fill="#ff0000"/>
<rect x="524" y="221" width="3" height="15" fill="#ff0000"/>
<rect x="525" y="222" width="1" height="13" fill="#ff4500"/>
<rect x="529" y="220" width="1" height="5" fill="#ff0000"/>
<rect x="528" y="220" width="3" height="3" fill="#ff0000"/>
<rect x="529" y="221" width="1" height="1" fill="#ff4500"/>
<rect x="533" y="209" width="1" height="15" fill="#32cd32"/>
<rect x="532" y="221" width="3" height="3" fill="#32cd32"/>
<rect x="537" y="217" width="1" height="21" fill="#32cd32"/>
<rect x="536" y="222" width="3" height="12" fill="#32cd32"/>
<rect x="541" y="226" width="1" height="15" fill="#ff0000"/>
<rect x="540" y="230" width="3" height="4" fill="#ff0000"/>
<rect x="541" y="231" width="1" height="2" fill="#ff4500"/>
<rect x="545" y="226" width="1" height="8" fill="#ff0000"/>
<rect x="544" y="228" width="3" height="3" fill="#ff0000"/>
<rect x="545" y="229" width="1" height="1" fill="#ff4500"/>
<rect x="549" y="224" width="1" height="9" fill="#ff0000"/>
<rect x="548" y="226" width="3" height="3" fill="#ff0000"/>
<rect x="549" y="227" width="1" height="1" fill="#ff4500"/>
<rect x="553" y="225" width="1" height="4" fill="#32cd32"/>
<rect x="552" y="226" width="3" height="2" fill="#32cd32"/>
<rect x="557" y="226" width="1" height="7" fill="#ff0000"/>
<rect x="556" y="228" width="3" height="4" fill="#ff0000"/>
<rect x="557" y="229" width="1" height="2" fill="#ff4500"/>
<rect x="561" y="223" width="1" height="31" fill="#32cd32"/>
<rect x="560" y="228" width="3" height="22" fill="#32cd32"/>
<rect x="565" y="243" width="1" height="14" fill="#32cd32"/>
<rect x="564" y="247" width="3" height="4" fill="#32cd32"/>
<rect x="569" y="245" width="1" height="44" fill="#32cd32"/>
<rect x="568" y="247" width="3" height="35" fill="#32cd32"/>
<rect x="573" y="265" width="1" height="32" fill="#ff0000"/>
<rect x="572" y="271" width="3" height="11" fill="#ff0000"/>
<rect x="573" y="272" width="1" height="9" fill="#ff4500"/>
<rect x="577" y="271" width="1" height="6" fill="#32cd32"/>
<rect x="576" y="271" width="3" height="6" fill="#32cd32"/>
<rect x="581" y="261" width="1" height="22" fill="#ff0000"/>
<rect x="580" y="269" width="3" height="13" fill="#ff0000"/>
<rect x="581" y="270" width="1" height="11" fill="#ff4500"/>
<rect x="585" y="260" width="1" height="19" fill="#ff0000"/>
<rect x="584" y="266" width="3" height="5" fill="#ff0000"/>
<rect x="585" y="267" width="1" height="3" fill="#ff4500"/>
<rect x="589" y="257" width="1" height="19" fill="#ff0000"/>
<rect x="588" y="264" width="3" height="4" fill="#ff0000"/>
<rect x="589" y="265" width="1" height="2" fill="#ff4500"/>
<rect x="593" y="259" width="1" height="12" fill="#32cd32"/>
<rect x="592" y="264" width="3" height="5" fill="#32cd32"/>
<rect x="597" y="265" width="1" height="15" fill="#32cd32"/>
<rect x="596" y="267" width="3" height="4" fill="#32cd32"/>
<rect x="601" y="270" width="1" height="3" fill="#32cd32"/>
<rect x="600" y="270" width="3" height="3" fill="#32cd32"/>
<rect x="605" y="276" width="1" height="23" fill="#ff0000"/>
<rect x="604" y="276" width="3" height="17" fill="#ff0000"/>
<rect x="605" y="277" width="1" height="15" fill="#ff4500"/>
<rect x="609" y="259" width="1" height="28" fill="#ff0000"/>
<rect x="608" y="263" width="3" height="14" fill="#ff0000"/>
<rect x="609" y="264" width="1" height="12" fill="#ff4500"/>
<rect x="613" y="250" width="1" height="17" fill="#ff0000"/>
<rect x="612" y="261" width="3" height="3" fill="#ff0000"/>
<rect x="613" y="262" width="1" height="1" fill="#ff4500"/>
<rect x="617" y="261" width="1" height="11" fill="#32cd32"/>
<rect x="616" y="261" width="3" height="9" fill="#32cd32"/>
<rect x="621" y="251" width="1" height="21" fill="#ff0000"/>
<rect x="620" y="252" width="3" height="18" fill="#ff0000"/>
<rect x="621" y="253" width="1" height="16" fill="#ff4500"/>
<rect x="625" y="251" width="1" height="5" fill="#32cd32"/>
<rect x="624" y="252" width="3" height="4" fill="#32cd32"/>
<rect x="629" y="251" width="1" height="13" fill="#32cd32"/>
<rect x="628" y="253" width="3" height="8" fill="#32cd32"/>
<rect x="633" y="253" width="1" height="12" fill="#ff0000"/>
<rect x="632" y="255" width="3" height="5" fill="#ff0000"/>
<rect x="633" y="256" width="1" height="3" fill="#ff4500"/>
<rect x="637" y="254" width="1" height="18" fill="#32cd32"/>
<rect x="636" y="255" width="3" height="17" fill="#32cd32"/>
<rect x="641" y="266" width="1" height="14" fill="#32cd32"/>
<rect x="640" y="270" width="3" height="2" fill="#32cd32"/>
<rect x="645" y="261" width="1" height="11" fill="#ff0000"/>
<rect x="644" y="263" width="3" height="9" fill="#ff0000"/>
<rect x="645" y="264" width="1" height="7" fill="#ff4500"/>
<rect x="649" y="263" width="1" height="5" fill="#32cd32"/>
<rect x="648" y="264" width="3" height="3" fill="#32cd32"/>
<rect x="653" y="260" width="1" height="13" fill="#32cd32"/>
<rect x="652" y="264" width="3" height="6" fill="#32cd32"/>
<rect x="657" y="264" width="1" height="10" fill="#ff0000"/>
<rect x="656" y="265" width="3" height="5" fill="#ff0000"/>
<rect x="657" y="266" width="1" height="3" fill="#ff4500"/>
<rect x="661" y="261" width="1" height="10" fill="#32cd32"/>
<rect x="660" y="264" width="3" height="6" fill="#32cd32"/>
<rect x="665" y="260" width="1" height="11" fill="#ff0000"/>
<rect x="664" y="263" width="3" height="7" fill="#ff0000"/>
<rect x="665" y="264" width="1" height="5" fill="#ff4500"/>
<rect x="669" y="262" width="1" height="11" fill="#ff0000"/>
<rect x="668" y="262" width="3" height="3" fill="#ff0000"/>
<rect x="669" y="263" width="1" height="1" fill="#ff4500"/>
<rect x="673" y="261" width="1" height="5" fill="#32cd32"/>
<rect x="672" y="262" width="3" height="3" fill="#32cd32"/>
<rect x="677" y="262" width="1" height="7" fill="#ff0000"/>
<rect x="676" y="262" width="3" height="6" fill="#ff0000"/>
<rect x="677" y="263" width="1" height="4" fill="#ff4500"/>
<rect x="681" y="260" width="1" height="8" fill="#ff0000"/>
<rect x="680" y="261" width="3" height="4" fill="#ff0000"/>
<rect x="681" y="262" width="1" height="2" fill="#ff4500"/>
<rect x="685" y="260" width="1" height="13" fill="#32cd32"/>
<rect x="684" y="261" width="3" height="10" fill="#32cd32"/>
<rect x="689" y="267" width="1" height="8" fill="#32cd32"/>
<rect x="688" y="269" width="3" height="4" fill="#32cd32"/>
<rect x="693" y="265" width="1" height="8" fill="#ff0000"/>
<rect x="692" y="266" width="3" height="7" fill="#ff0000"/>
<rect x="693" y="267" width="1" height="5" fill="#ff4500"/>
<rect x="697" y="262" width="1" height="3" fill="#32cd32"/>
<rect x="696" y="262" width="3" height="2" fill="#32cd32"/>
<rect x="701" y="251" width="1" height="16" fill="#ff0000"/>
<rect x="700" y="256" width="3" height="9" fill="#ff0000"/>
<rect x="701" y="257" width="1" height="7" fill="#ff4500"/>
<rect x="705" y="254" width="1" height="8" fill="#32cd32"/>
<rect x="704" y="256" width="3" height="3" fill="#32cd32"/>
<rect x="709" y="253" width="1" height="9" fill="#32cd32"/>
<rect x="708" y="256" width="3" height="4" fill="#32cd32"/>
<rect x="713" y="239" width="1" height="21" fill="#ff0000"/>
<rect x="712" y="247" width="3" height="12" fill="#ff0000"/>
<rect x="713" y="248" width="1" height="10" fill="#ff4500"/>
<rect x="717" y="196" width="1" height="54" fill="#ff0000"/>
<rect x="716" y="202" width="3" height="46" fill="#ff0000"/>
<rect x="717" y="203" width="1" height="44" fill="#ff4500"/>
<rect x="721" y="196" width="1" height="8" fill="#ff0000"/>
<rect x="720" y="197" width="3" height="6" fill="#ff0000"/>
<rect x="721" y="198" width="1" height="4" fill="#ff4500"/>
<rect x="725" y="105" width="1" height="94" fill="#ff0000"/>
<rect x="724" y="115" width="3" height="84" fill="#ff0000"/>
<rect x="725" y="116" width="1" height="82" fill="#ff4500"/>
<rect x="729" y="83" width="1" height="69" fill="#32cd32"/>
<rect x="728" y="115" width="3" height="29" fill="#32cd32"/>
<rect x="733" y="113" width="1" height="34" fill="#ff0000"/>
<rect x="732" y="120" width="3" height="24" fill="#ff0000"/>
<rect x="733" y="121" width="1" height="22" fill="#ff4500"/>
<rect x="737" y="109" width="1" height="29" fill="#32cd32"/>
<rect x="736" y="120" width="3" height="16" fill="#32cd32"/>
<rect x="741" y="111" width="1" height="26" fill="#ff0000"/>
<rect x="740" y="112" width="3" height="24" fill="#ff0000"/>
<rect x="741" y="113" width="1" height="22" fill="#ff4500"/>
<rect x="745" y="105" width="1" height="12" fill="#32cd32"/>
<rect x="744" y="113" width="3" height="3" fill="#32cd32"/>
<rect x="749" y="102" width="1" height="19" fill="#32cd32"/>
<rect x="748" y="110" width="3" height="4" fill="#32cd32"/>
<rect x="753" y="106" width="1" height="83" fill="#32cd32"/>
<rect x="752" y="112" width="3" height="60" fill="#32cd32"/>
<rect x="757" y="145" width="1" height="31" fill="#ff0000"/>
<rect x="756" y="145" width="3" height="27" fill="#ff0000"/>
<rect x="757" y="146" width="1" height="25" fill="#ff4500"/>
<rect x="761" y="135" width="1" height="26" fill="#32cd32"/>
<rect x="760" y="144" width="3" height="4" fill="#32cd32"/>
<rect x="765" y="140" width="1" height="12" fill="#32cd32"/>
<rect x="764" y="146" width="3" height="2" fill="#32cd32"/>
<rect x="769" y="147" width="1" height="5" fill="#32cd32"/>
<rect x="768" y="147" width="3" height="4" fill="#32cd32"/>
<rect x="773" y="137" width="1" height="15" fill="#ff0000"/>
<rect x="772" y="137" width="3" height="15" fill="#ff0000"/>
<rect x="773" y="138" width="1" height="13" fill="#ff4500"/>
<rect x="777" y="127" width="1" height="12" fill="#ff0000"/>
<rect x="776" y="131" width="3" height="7" fill="#ff0000"/>
<rect x="777" y="132" width="1" height="5" fill="#ff4500"/>
<rect x="781" y="130" width="1" height="13" fill="#32cd32"/>
<rect x="780" y="131" width="3" height="7" fill="#32cd32"/>
<rect x="785" y="110" width="1" height="28" fill="#ff0000"/>
<rect x="784" y="117" width="3" height="21" fill="#ff0000"/>
<rect x="785" y="118" width="1" height="19" fill="#ff4500"/>
<rect x="789" y="90" width="1" height="34" fill="#ff0000"/>
<rect x="788" y="91" width="3" height="27" fill="#ff0000"/>
<rect x="789" y="92" width="1" height="25" fill="#ff4500"/>
<rect x="793" y="84" width="1" height="13" fill="#ff0000"/>
<rect x="792" y="86" width="3" height="7" fill="#ff0000"/>
<rect x="793" y="87" width="1" height="5" fill="#ff4500"/>
<rect x="797" y="59" width="1" height="28" fill="#ff0000"/>
<rect x="796" y="62" width="3" height="25" fill="#ff0000"/>
<rect x="797" y="63" width="1" height="23" fill="#ff4500"/>
<rect x="801" y="54" width="1" height="23" fill="#32cd32"/>
<rect x="800" y="62" width="3" height="6" fill="#32cd32"/>
<rect x="805" y="58" width="1" height="16" fill="#ff0000"/>
<rect x="804" y="63" width="3" height="5" fill="#ff0000"/>
<rect x="805" y="64" width="1" height="3" fill="#ff4500"/>
<rect x="809" y="57" width="1" height="27" fill="#32cd32"/>
<rect x="808" y="63" width="3" height="17" fill="#32cd32"/>
<rect x="813" y="67" width="1" height="18" fill="#ff0000"/>
<rect x="812" y="68" width="3" height="11" fill="#ff0000"/>
<rect x="813" y="69" width="1" height="9" fill="#ff4500"/>
<rect x="817" y="62" width="1" height="9" fill="#ff0000"/>
<rect x="816" y="67" width="3" height="4" fill="#ff0000"/>
<rect x="817" y="68" width="1" height="2" fill="#ff4500"/>
<rect x="821" y="49" width="1" height="19" fill="#ff0000"/>
<rect x="820" y="50" width="3" height="18" fill="#ff0000"/>
<rect x="821" y="51" width="1" height="16" fill="#ff4500"/>
<rect x="825" y="44" width="1" height="15" fill="#32cd32"/>
<rect x="824" y="50" width="3" height="7" fill="#32cd32"/>
<rect x="829" y="54" width="1" height="28" fill="#32cd32"/>
<rect x="828" y="55" width="3" height="26" fill="#32cd32"/>
<rect x="833" y="76" width="1" height="22" fill="#32cd32"/>
<rect x="832" y="78" width="3" height="7" fill="#32cd32"/>
<rect x="837" y="77" width="1" height="33" fill="#32cd32"/>
<rect x="836" y="83" width="3" height="20" fill="#32cd32"/>
<rect x="841" y="102" width="1" height="13" fill="#32cd32"/>
<rect x="840" y="102" width="3" height="9" fill="#32cd32"/>
<rect x="845" y="89" width="1" height="18" fill="#ff0000"/>
<rect x="844" y="98" width="3" height="8" fill="#ff0000"/>
<rect x="845" y="99" width="1" height="6" fill="#ff4500"/>
<rect x="849" y="94" width="1" height="20" fill="#32cd32"/>
<rect x="848" y="99" width="3" height="8" fill="#32cd32"/>
<rect x="853" y="98" width="1" height="13" fill="#ff0000"/>
<rect x="852" y="102" width="3" height="5" fill="#ff0000"/>
<rect x="853" y="103" width="1" height="3" fill="#ff4500"/>
<rect x="857" y="102" width="1" height="45" fill="#32cd32"/>
<rect x="856" y="102" width="3" height="35" fill="#32cd32"/>
<rect x="861" y="132" width="1" height="29" fill="#32cd32"/>
<rect x="860" y="135" width="3" height="26" fill="#32cd32"/>
<rect x="865" y="151" width="1" height="10" fill="#ff0000"/>
<rect x="864" y="151" width="3" height="9" fill="#ff0000"/>
<rect x="865" y="152" width="1" height="7" fill="#ff4500"/>
<rect x="869" y="132" width="1" height="21" fill="#ff0000"/>
<rect x="868" y="135" width="3" height="17" fill="#ff0000"/>
<rect x="869" y="136" width="1" height="15" fill="#ff4500"/>
<rect x="873" y="113" width="1" height="27" fill="#ff0000"/>
<rect x="872" y="120" width="3" height="17" fill="#ff0000"/>
<rect x="873" y="121" width="1" height="15" fill="#ff4500"/>
<rect x="877" y="119" width="1" height="9" fill="#32cd32"/>
<rect x="876" y="120" width="3" height="7" fill="#32cd32"/>
<rect x="881" y="106" width="1" height="26" fill="#ff0000"/>
<rect x="880" y="112" width="3" height="15" fill="#ff0000"/>
<rect x="881" y="113" width="1" height="13" fill="#ff4500"/>
<rect x="885" y="108" width="1" height="22" fill="#32cd32"/>
<rect x="884" y="112" width="3" height="10" fill="#32cd32"/>
<rect x="889" y="90" width="1" height="32" fill="#ff0000"/>
<rect x="888" y="100" width="3" height="21" fill="#ff0000"/>
<rect x="889" y="101" width="1" height="19" fill="#ff4500"/>
<rect x="893" y="93" width="1" height="20" fill="#ff0000"/>
<rect x="892" y="99" width="3" height="12" fill="#ff0000"/>
<rect x="893" y="100" width="1" height="10" fill="#ff4500"/>
<rect x="897" y="97" width="1" height="17" fill="#32cd32"/>
<rect x="896" y="99" width="3" height="3" fill="#32cd32"/>
<rect x="901" y="87" width="1" height="23" fill="#ff0000"/>
<rect x="900" y="88" width="3" height="14" fill="#ff0000"/>
<rect x="901" y="89" width="1" height="12" fill="#ff4500"/>
<rect x="905" y="87" width="1" height="14" fill="#32cd32"/>
<rect x="904" y="89" width="3" height="5" fill="#32cd32"/>
<rect x="909" y="75" width="1" height="28" fill="#ff0000"/>
<rect x="908" y="86" width="3" height="6" fill="#ff0000"/>
<rect x="909" y="87" width="1" height="4" fill="#ff4500"/>
<rect x="913" y="78" width="1" height="10" fill="#ff0000"/>
<rect x="912" y="78" width="3" height="10" fill="#ff0000"/>
<rect x="913" y="79" width="1" height="8" fill="#ff4500"/>
<rect x="917" y="76" width="1" height="24" fill="#32cd32"/>
<rect x="916" y="77" width="3" height="6" fill="#32cd32"/>
<rect x="921" y="71" width="1" height="18" fill="#ff0000"/>
<rect x="920" y="77" width="3" height="6" fill="#ff0000"/>
<rect x="921" y="78" width="1" height="4" fill="#ff4500"/>
<rect x="925" y="75" width="1" height="6" fill="#ff0000"/>
<rect x="924" y="76" width="3" height="2" fill="#ff0000"/>
</g>
<rect x="1167" y="109" width="1" height="2" fill="#ff0000"/>
<rect x="4" y="107" width="6" height="6" fill="#ff0000"/>
<rect x="6" y="109" width="2" height="2" fill="#fff"/>
<rect x="1161" y="107" width="6" height="6" fill="#ff0000"/>
<rect x="1163" y="109" width="2" height="2" fill="#fff"/>
<rect x="1167" y="179" width="1" height="2" fill="#00ff00"/>
<rect x="4" y="177" width="6" height="6" fill="#00ff00"/>
<rect x="6" y="179" width="2" height="2" fill="#fff"/>
<rect x="1161" y="177" width="6" height="6" fill="#00ff00"/>
<rect x="1163" y="179" width="2" height="2" fill="#fff"/>
<rect x="1167" y="248" width="1" height="2" fill="#0000ff"/>
<rect x="4" y="246" width="6" height="6" fill="#0000ff"/>
<rect x="6" y="248" width="2" height="2" fill="#fff"/>
<rect x="1161" y="246" width="6" height="6" fill="#0000ff"/>
<rect x="1163" y="248" width="2" height="2" fill="#fff"/>
<rect x="1167" y="304" width="1" height="2" fill="#0000ff"/>
<rect x="4" y="302" width="6" height="6" fill="#0000ff"/>
<rect x="6" y="304" width="2" height="2" fill="#fff"/>
<rect x="1161" y="302" width="6" height="6" fill="#0000ff"/>
<rect x="1163" y="304" width="2" height="2" fill="#fff"/>
<rect x="1169" y="72" width="41" height="11" fill="#000"/>
<text x="1173" y="81" font-size="10.2" fill="#fff" textLength="32.7" lengthAdjust="spacingAndGlyphs">7.14792</text>
<rect x="1169" y="104" width="41" height="11" fill="#ff0000"/>
<text x="1173" y="113" font-size="10.2" fill="#fff" textLength="32.7" lengthAdjust="spacingAndGlyphs">7.10013</text>
<rect x="1169" y="174" width="41" height="11" fill="#00ff00"/>
<text x="1173" y="183" font-size="10.2" fill="#fff" textLength="32.7" lengthAdjust="spacingAndGlyphs">7.00006</text>
<rect x="1169" y="243" width="41" height="11" fill="#0000ff"/>
<text x="1173" y="252" font-size="10.2" fill="#fff" textLength="32.7" lengthAdjust="spacingAndGlyphs">6.90155</text>
<rect x="1169" y="299" width="41" height="11" fill="#0000ff"/>
<text x="1173" y="308" font-size="10.2" fill="#fff" textLength="32.7" lengthAdjust="spacingAndGlyphs">6.82172</text>
<path d="M8,35 L16,35 L12,31 Z" fill="#000"/>
<text x="20.8" y="36" font-size="10.2" fill="#000" textLength="65" lengthAdjust="spacingAndGlyphs">USDCNH,Daily</text>
<text x="92.7" y="36" font-size="10.2" fill="#000" textLength="139.4" lengthAdjust="spacingAndGlyphs">7.14743 7.14956 7.14190 7.14792</text>
<g clip-path="url(#cmacd)" shape-rendering="crispEdges">
<rect x="4" y="465" width="3" height="5" fill="#c0c0c0"/>
<rect x="8" y="465" width="3" height="7" fill="#c0c0c0"/>
<rect x="12" y="465" width="3" height="7" fill="#c0c0c0"/>
<rect x="16" y="465" width="3" height="7" fill="#c0c0c0"/>
<rect x="20" y="465" width="3" height="6" fill="#c0c0c0"/>
<rect x="24" y="465" width="3" height="6" fill="#c0c0c0"/>
<rect x="28" y="465" width="3" height="7" fill="#c0c0c0"/>
<rect x="32" y="465" width="3" height="9" fill="#c0c0c0"/>
<rect x="36" y="465" width="3" height="11" fill="#c0c0c0"/>
<rect x="40" y="465" width="3" height="14" fill="#c0c0c0"/>
<rect x="44" y="465" width="3" height="18" fill="#c0c0c0"/>
<rect x="48" y="465" width="3" height="20" fill="#c0c0c0"/>
<rect x="52" y="465" width="3" height="22" fill="#c0c0c0"/>
<rect x="56" y="465" width="3" height="23" fill="#c0c0c0"/>
<rect x="60" y="465" width="3" height="23" fill="#c0c0c0"/>
<rect x="64" y="465" width="3" height="22" fill="#c0c0c0"/>
<rect x="68" y="465" width="3" height="21" fill="#c0c0c0"/>
<rect x="72" y="465" width="3" height="20" fill="#c0c0c0"/>
<rect x="76" y="465" width="3" height="18" fill="#c0c0c0"/>
<rect x="80" y="465" width="3" height="16" fill="#c0c0c0"/>
<rect x="84" y="465" width="3" height="15" fill="#c0c0c0"/>
<rect x="88" y="465" width="3" height="14" fill="#c0c0c0"/>
<rect x="92" y="465" width="3" height="16" fill="#c0c0c0"/>
<rect x="96" y="465" width="3" height="17" fill="#c0c0c0"/>
<rect x="100" y="465" width="3" height="17" fill="#c0c0c0"/>
<rect x="104" y="465" width="3" height="18" fill="#c0c0c0"/>
<rect x="108" y="465" width="3" height="19" fill="#c0c0c0"/>
<rect x="112" y="465" width="3" height="21" fill="#c0c0c0"/>
<rect x="116" y="465" width="3" height="20" fill="#c0c0c0"/>
<rect x="120" y="465" width="3" height="17" fill="#c0c0c0"/>
<rect x="124" y="465" width="3" height="16" fill="#c0c0c0"/>
<rect x="128" y="465" width="3" height="15" fill="#c0c0c0"/>
<rect x="132" y="465" width="3" height="13" fill="#c0c0c0"/>
<rect x="136" y="465" width="3" height="12" fill="#c0c0c0"/>
<rect x="140" y="465" width="3" height="10" fill="#c0c0c0"/>
<rect x="144" y="465" width="3" height="8" fill="#c0c0c0"/>
<rect x="148" y="465" width="3" height="6" fill="#c0c0c0"/>
<rect x="152" y="465" width="3" height="6" fill="#c0c0c0"/>
<rect x="156" y="465" width="3" height="5" fill="#c0c0c0"/>
<rect x="160" y="465" width="3" height="5" fill="#c0c0c0"/>
<rect x="164" y="465" width="3" height="4" fill="#c0c0c0"/>
<rect x="168" y="465" width="3" height="4" fill="#c0c0c0"/>
<rect x="172" y="465" width="3" height="4" fill="#c0c0c0"/>
<rect x="176" y="465" width="3" height="4" fill="#c0c0c0"/>
<rect x="180" y="465" width="3" height="7" fill="#c0c0c0"/>
<rect x="184" y="465" width="3" height="9" fill="#c0c0c0"/>
<rect x="188" y="465" width="3" height="11" fill="#c0c0c0"/>
<rect x="192" y="465" width="3" height="12" fill="#c0c0c0"/>
<rect x="196" y="465" width="3" height="15" fill="#c0c0c0"/>
<rect x="200" y="465" width="3" height="16" fill="#c0c0c0"/>
<rect x="204" y="465" width="3" height="17" fill="#c0c0c0"/>
<rect x="208" y="465" width="3" height="17" fill="#c0c0c0"/>
<rect x="212" y="465" width="3" height="16" fill="#c0c0c0"/>
<rect x="216" y="465" width="3" height="15" fill="#c0c0c0"/>
<rect x="220" y="465" width="3" height="14" fill="#c0c0c0"/>
<rect x="224" y="465" width="3" height="14" fill="#c0c0c0"/>
<rect x="228" y="465" width="3" height="13" fill="#c0c0c0"/>
<rect x="232" y="465" width="3" height="11" fill="#c0c0c0"/>
<rect x="236" y="465" width="3" height="10" fill="#c0c0c0"/>
<rect x="240" y="465" width="3" height="8" fill="#c0c0c0"/>
<rect x="244" y="465" width="3" height="7" fill="#c0c0c0"/>
<rect x="248" y="465" width="3" height="7" fill="#c0c0c0"/>
<rect x="252" y="465" width="3" height="7" fill="#c0c0c0"/>
<rect x="256" y="465" width="3" height="7" fill="#c0c0c0"/>
<rect x="260" y="465" width="3" height="7" fill="#c0c0c0"/>
<rect x="264" y="465" width="3" height="6" fill="#c0c0c0"/>
<rect x="268" y="465" width="3" height="5" fill="#c0c0c0"/>
<rect x="272" y="465" width="3" height="5" fill="#c0c0c0"/>
<rect x="276" y="465" width="3" height="5" fill="#c0c0c0"/>
<rect x="280" y="465" width="3" height="5" fill="#c0c0c0"/>
<rect x="284" y="465" width="3" height="5" fill="#c0c0c0"/>
<rect x="288" y="465" width="3" height="4" fill="#c0c0c0"/>
<rect x="292" y="465" width="3" height="4" fill="#c0c0c0"/>
<rect x="296" y="465" width="3" height="3" fill="#c0c0c0"/>
<rect x="300" y="465" width="3" height="2" fill="#c0c0c0"/>
<rect x="304" y="465" width="3" height="1" fill="#c0c0c0"/>
<rect x="308" y="465" width="3" height="1" fill="#c0c0c0"/>
<rect x="312" y="465" width="3" height="1" fill="#c0c0c0"/>
<rect x="316" y="465" width="3" height="2" fill="#c0c0c0"/>
<rect x="320" y="465" width="3" height="1" fill="#c0c0c0"/>
<rect x="324" y="465" width="3" height="1" fill="#c0c0c0"/>
<rect x="328" y="465" width="3" height="1" fill="#c0c0c0"/>
<rect x="332" y="465" width="3" height="2" fill="#c0c0c0"/>
<rect x="336" y="465" width="3" height="3" fill="#c0c0c0"/>
<rect x="340" y="465" width="3" height="3" fill="#c0c0c0"/>
<rect x="344" y="465" width="3" height="2" fill="#c0c0c0"/>
<rect x="348" y="465" width="3" height="1" fill="#c0c0c0"/>
<rect x="352" y="465" width="3" height="1" fill="#c0c0c0"/>
<rect x="356" y="465" width="3" height="2" fill="#c0c0c0"/>
<rect x="360" y="465" width="3" height="3" fill="#c0c0c0"/>
<rect x="364" y="465" width="3" height="3" fill="#c0c0c0"/>
<rect x="368" y="465" width="3" height="3" fill="#c0c0c0"/>
<rect x="372" y="465" width="3" height="4" fill="#c0c0c0"/>
<rect x="376" y="465" width="3" height="4" fill="#c0c0c0"/>
<rect x="380" y="465" width="3" height="4" fill="#c0c0c0"/>
<rect x="384" y="465" width="3" height="4" fill="#c0c0c0"/>
<rect x="388" y="465" width="3" height="2" fill="#c0c0c0"/>
<rect x="392" y="465" width="3" height="1" fill="#c0c0c0"/>
<rect x="396" y="463" width="3" height="2" fill="#c0c0c0"/>
<rect x="400" y="463" width="3" height="2" fill="#c0c0c0"/>
<rect x="404" y="462" width="3" height="3" fill="#c0c0c0"/>
<rect x="408" y="462" width="3" height="3" fill="#c0c0c0"/>
<rect x="412" y="461" width="3" height="4" fill="#c0c0c0"/>
<rect x="416" y="462" width="3" height="3" fill="#c0c0c0"/>
<rect x="420" y="461" width="3" height="4" fill="#c0c0c0"/>
<rect x="424" y="461" width="3" height="4" fill="#c0c0c0"/>
<rect x="428" y="461" width="3" height="4" fill="#c0c0c0"/>
<rect x="432" y="462" width="3" height="3" fill="#c0c0c0"/>
<rect x="436" y="452" width="3" height="13" fill="#c0c0c0"/>
<rect x="440" y="446" width="3" height="19" fill="#c0c0c0"/>
<rect x="444" y="441" width="3" height="24" fill="#c0c0c0"/>
<rect x="448" y="437" width="3" height="28" fill="#c0c0c0"/>
<rect x="452" y="433" width="3" height="32" fill="#c0c0c0"/>
<rect x="456" y="430" width="3" height="35" fill="#c0c0c0"/>
<rect x="460" y="428" width="3" height="37" fill="#c0c0c0"/>
<rect x="464" y="428" width="3" height="37" fill="#c0c0c0"/>
<rect x="468" y="428" width="3" height="37" fill="#c0c0c0"/>
<rect x="472" y="428" width="3" height="37" fill="#c0c0c0"/>
<rect x="476" y="430" width="3" height="35" fill="#c0c0c0"/>
<rect x="480" y="431" width="3" height="34" fill="#c0c0c0"/>
<rect x="484" y="433" width="3" height="32" fill="#c0c0c0"/>
<rect x="488" y="435" width="3" height="30" fill="#c0c0c0"/>
<rect x="492" y="436" width="3" height="29" fill="#c0c0c0"/>
<rect x="496" y="437" width="3" height="28" fill="#c0c0c0"/>
<rect x="500" y="438" width="3" height="27" fill="#c0c0c0"/>
<rect x="504" y="439" width="3" height="26" fill="#c0c0c0"/>
<rect x="508" y="440" width="3" height="25" fill="#c0c0c0"/>
<rect x="512" y="442" width="3" height="23" fill="#c0c0c0"/>
<rect x="516" y="443" width="3" height="22" fill="#c0c0c0"/>
<rect x="520" y="444" width="3" height="21" fill="#c0c0c0"/>
<rect x="524" y="445" width="3" height="20" fill="#c0c0c0"/>
<rect x="528" y="445" width="3" height="20" fill="#c0c0c0"/>
<rect x="532" y="446" width="3" height="19" fill="#c0c0c0"/>
<rect x="536" y="448" width="3" height="17" fill="#c0c0c0"/>
<rect x="540" y="449" width="3" height="16" fill="#c0c0c0"/>
<rect x="544" y="450" width="3" height="15" fill="#c0c0c0"/>
<rect x="548" y="451" width="3" height="14" fill="#c0c0c0"/>
<rect x="552" y="452" width="3" height="13" fill="#c0c0c0"/>
<rect x="556" y="452" width="3" height="13" fill="#c0c0c0"/>
<rect x="560" y="455" width="3" height="10" fill="#c0c0c0"/>
<rect x="564" y="457" width="3" height="8" fill="#c0c0c0"/>
<rect x="568" y="461" width="3" height="4" fill="#c0c0c0"/>
<rect x="572" y="463" width="3" height="2" fill="#c0c0c0"/>
<rect x="576" y="465" width="3" height="1" fill="#c0c0c0"/>
<rect x="580" y="465" width="3" height="3" fill="#c0c0c0"/>
<rect x="584" y="465" width="3" height="3" fill="#c0c0c0"/>
<rect x="588" y="465" width="3" height="4" fill="#c0c0c0"/>
<rect x="592" y="465" width="3" height="4" fill="#c0c0c0"/>
<rect x="596" y="465" width="3" height="5" fill="#c0c0c0"/>
<rect x="600" y="465" width="3" height="6" fill="#c0c0c0"/>
<rect x="604" y="465" width="3" height="6" fill="#c0c0c0"/>
<rect x="608" y="465" width="3" height="6" fill="#c0c0c0"/>
<rect x="612" y="465" width="3" height="4" fill="#c0c0c0"/>
<rect x="616" y="465" width="3" height="4" fill="#c0c0c0"/>
<rect x="620" y="465" width="3" height="4" fill="#c0c0c0"/>
<rect x="624" y="465" width="3" height="3" fill="#c0c0c0"/>
<rect x="628" y="465" width="3" height="3" fill="#c0c0c0"/>
<rect x="632" y="465" width="3" height="2" fill="#c0c0c0"/>
<rect x="636" y="465" width="3" height="3" fill="#c0c0c0"/>
<rect x="640" y="465" width="3" height="3" fill="#c0c0c0"/>
<rect x="644" y="465" width="3" height="3" fill="#c0c0c0"/>
<rect x="648" y="465" width="3" height="2" fill="#c0c0c0"/>
<rect x="652" y="465" width="3" height="2" fill="#c0c0c0"/>
<rect x="656" y="465" width="3" height="2" fill="#c0c0c0"/>
<rect x="660" y="465" width="3" height="2" fill="#c0c0c0"/>
<rect x="664" y="465" width="3" height="2" fill="#c0c0c0"/>
<rect x="668" y="465" width="3" height="2" fill="#c0c0c0"/>
<rect x="672" y="465" width="3" height="2" fill="#c0c0c0"/>
<rect x="676" y="465" width="3" height="2" fill="#c0c0c0"/>
<rect x="680" y="465" width="3" height="2" fill="#c0c0c0"/>
<rect x="684" y="465" width="3" height="2" fill="#c0c0c0"/>
<rect x="688" y="465" width="3" height="2" fill="#c0c0c0"/>
<rect x="692" y="465" width="3" height="2" fill="#c0c0c0"/>
<rect x="696" y="465" width="3" height="1" fill="#c0c0c0"/>
<rect x="700" y="465" width="3" height="1" fill="#c0c0c0"/>
<rect x="704" y="465" width="3" height="1" fill="#c0c0c0"/>
<rect x="708" y="465" width="3" height="1" fill="#c0c0c0"/>
<rect x="716" y="459" width="3" height="6" fill="#c0c0c0"/>
<rect x="720" y="456" width="3" height="9" fill="#c0c0c0"/>
<rect x="724" y="447" width="3" height="18" fill="#c0c0c0"/>
<rect x="728" y="443" width="3" height="22" fill="#c0c0c0"/>
<rect x="732" y="438" width="3" height="27" fill="#c0c0c0"/>
<rect x="736" y="435" width="3" height="30" fill="#c0c0c0"/>
<rect x="740" y="432" width="3" height="33" fill="#c0c0c0"/>
<rect x="744" y="430" width="3" height="35" fill="#c0c0c0"/>
<rect x="748" y="429" width="3" height="36" fill="#c0c0c0"/>
<rect x="752" y="432" width="3" height="33" fill="#c0c0c0"/>
<rect x="756" y="434" width="3" height="31" fill="#c0c0c0"/>
<rect x="760" y="435" width="3" height="30" fill="#c0c0c0"/>
<rect x="764" y="437" width="3" height="28" fill="#c0c0c0"/>
<rect x="768" y="438" width="3" height="27" fill="#c0c0c0"/>
<rect x="772" y="439" width="3" height="26" fill="#c0c0c0"/>
<rect x="776" y="440" width="3" height="25" fill="#c0c0c0"/>
<rect x="780" y="441" width="3" height="24" fill="#c0c0c0"/>
<rect x="784" y="440" width="3" height="25" fill="#c0c0c0"/>
<rect x="788" y="438" width="3" height="27" fill="#c0c0c0"/>
<rect x="792" y="437" width="3" height="28" fill="#c0c0c0"/>
<rect x="796" y="434" width="3" height="31" fill="#c0c0c0"/>
<rect x="800" y="433" width="3" height="32" fill="#c0c0c0"/>
<rect x="804" y="432" width="3" height="33" fill="#c0c0c0"/>
<rect x="808" y="433" width="3" height="32" fill="#c0c0c0"/>
<rect x="812" y="433" width="3" height="32" fill="#c0c0c0"/>
<rect x="816" y="433" width="3" height="32" fill="#c0c0c0"/>
<rect x="820" y="433" width="3" height="32" fill="#c0c0c0"/>
<rect x="824" y="433" width="3" height="32" fill="#c0c0c0"/>
<rect x="828" y="435" width="3" height="30" fill="#c0c0c0"/>
<rect x="832" y="438" width="3" height="27" fill="#c0c0c0"/>
<rect x="836" y="441" width="3" height="24" fill="#c0c0c0"/>
<rect x="840" y="445" width="3" height="20" fill="#c0c0c0"/>
<rect x="844" y="447" width="3" height="18" fill="#c0c0c0"/>
<rect x="848" y="450" width="3" height="15" fill="#c0c0c0"/>
<rect x="852" y="452" width="3" height="13" fill="#c0c0c0"/>
<rect x="856" y="456" width="3" height="9" fill="#c0c0c0"/>
<rect x="860" y="461" width="3" height="4" fill="#c0c0c0"/>
<rect x="864" y="464" width="3" height="1" fill="#c0c0c0"/>
<rect x="868" y="465" width="3" height="2" fill="#c0c0c0"/>
<rect x="872" y="465" width="3" height="2" fill="#c0c0c0"/>
<rect x="876" y="465" width="3" height="2" fill="#c0c0c0"/>
<rect x="880" y="465" width="3" height="1" fill="#c0c0c0"/>
<rect x="884" y="465" width="3" height="2" fill="#c0c0c0"/>
<rect x="892" y="463" width="3" height="2" fill="#c0c0c0"/>
<rect x="896" y="462" width="3" height="3" fill="#c0c0c0"/>
<rect x="900" y="461" width="3" height="4" fill="#c0c0c0"/>
<rect x="904" y="460" width="3" height="5" fill="#c0c0c0"/>
<rect x="908" y="459" width="3" height="6" fill="#c0c0c0"/>
<rect x="912" y="457" width="3" height="8" fill="#c0c0c0"/>
<rect x="916" y="457" width="3" height="8" fill="#c0c0c0"/>
<rect x="920" y="456" width="3" height="9" fill="#c0c0c0"/>
<rect x="924" y="455" width="3" height="10" fill="#c0c0c0"/>
<path d="M480 430h11v1h-11zM478 431h2v1h-2zM491 431h4v1h-4zM475 432h3v1h-3zM495 432h4v1h-4zM473 433h2v1h-2zM499 433h4v1h-4zM827 433h4v1h-4zM471 434h2v1h-2zM503 434h3v1h-3zM760 434h15v1h-15zM819 434h8v1h-8zM831 434h4v1h-4zM470 435h1v1h-1zM506 435h2v1h-2zM758 435h2v1h-2zM775 435h4v1h-4zM815 435h4v1h-4zM835 435h4v1h-4zM469 436h1v1h-1zM508 436h3v1h-3zM756 436h2v1h-2zM779 436h4v1h-4zM811 436h4v1h-4zM839 436h3v1h-3zM468 437h1v1h-1zM511 437h4v1h-4zM754 437h2v1h-2zM783 437h4v1h-4zM803 437h8v1h-8zM842 437h2v1h-2zM467 438h1v1h-1zM515 438h4v1h-4zM753 438h1v1h-1zM787 438h16v1h-16zM844 438h2v1h-2zM466 439h1v1h-1zM519 439h3v1h-3zM751 439h2v1h-2zM846 439h2v1h-2zM465 440h1v1h-1zM522 440h2v1h-2zM750 440h1v1h-1zM848 440h2v1h-2zM463 441h2v1h-2zM524 441h3v1h-3zM749 441h1v1h-1zM850 441h2v1h-2zM462 442h1v1h-1zM527 442h4v1h-4zM748 442h1v1h-1zM852 442h2v1h-2zM461 443h1v1h-1zM531 443h4v1h-4zM747 443h1v1h-1zM854 443h2v1h-2zM460 444h1v1h-1zM535 444h4v1h-4zM746 444h1v1h-1zM856 444h2v1h-2zM459 445h1v1h-1zM539 445h4v1h-4zM745 445h1v1h-1zM858 445h1v1h-1zM458 446h1v1h-1zM543 446h4v1h-4zM744 446h1v1h-1zM859 446h2v1h-2zM457 447h1v1h-1zM547 447h4v1h-4zM743 447h1v1h-1zM861 447h1v1h-1zM456 448h1v1h-1zM551 448h4v1h-4zM742 448h1v1h-1zM862 448h1v1h-1zM455 449h1v1h-1zM555 449h4v1h-4zM741 449h1v1h-1zM863 449h1v1h-1zM454 450h1v1h-1zM559 450h4v1h-4zM740 450h1v1h-1zM864 450h1v1h-1zM453 451h1v1h-1zM563 451h3v1h-3zM739 451h1v1h-1zM865 451h1v1h-1zM451 452h2v1h-2zM566 452h2v1h-2zM738 452h1v1h-1zM866 452h1v1h-1zM450 453h1v1h-1zM568 453h2v1h-2zM737 453h1v1h-1zM867 453h2v1h-2zM449 454h1v1h-1zM570 454h2v1h-2zM735 454h2v1h-2zM869 454h1v1h-1zM447 455h2v1h-2zM572 455h3v1h-3zM734 455h1v1h-1zM870 455h1v1h-1zM446 456h1v1h-1zM575 456h3v1h-3zM733 456h1v1h-1zM871 456h2v1h-2zM444 457h2v1h-2zM578 457h2v1h-2zM731 457h2v1h-2zM873 457h1v1h-1zM442 458h2v1h-2zM580 458h2v1h-2zM730 458h1v1h-1zM874 458h2v1h-2zM440 459h2v1h-2zM582 459h2v1h-2zM729 459h1v1h-1zM876 459h2v1h-2zM923 459h3v1h-3zM438 460h2v1h-2zM584 460h2v1h-2zM727 460h2v1h-2zM878 460h2v1h-2zM919 460h4v1h-4zM435 461h3v1h-3zM586 461h2v1h-2zM726 461h1v1h-1zM880 461h2v1h-2zM915 461h4v1h-4zM423 462h12v1h-12zM588 462h2v1h-2zM724 462h2v1h-2zM882 462h2v1h-2zM911 462h4v1h-4zM419 463h4v1h-4zM590 463h2v1h-2zM722 463h2v1h-2zM884 463h3v1h-3zM907 463h4v1h-4zM415 464h4v1h-4zM592 464h2v1h-2zM719 464h3v1h-3zM887 464h4v1h-4zM903 464h4v1h-4zM407 465h8v1h-8zM594 465h2v1h-2zM715 465h4v1h-4zM891 465h12v1h-12zM327 466h12v1h-12zM403 466h4v1h-4zM596 466h3v1h-3zM707 466h8v1h-8zM315 467h12v1h-12zM339 467h40v1h-40zM395 467h8v1h-8zM599 467h4v1h-4zM651 467h56v1h-56zM5 468h2v1h-2zM307 468h8v1h-8zM379 468h16v1h-16zM603 468h4v1h-4zM639 468h12v1h-12zM7 469h12v1h-12zM299 469h8v1h-8zM607 469h12v1h-12zM623 469h16v1h-16zM19 470h12v1h-12zM171 470h16v1h-16zM291 470h8v1h-8zM619 470h4v1h-4zM31 471h4v1h-4zM167 471h4v1h-4zM187 471h7v1h-7zM275 471h16v1h-16zM35 472h4v1h-4zM164 472h3v1h-3zM194 472h2v1h-2zM267 472h8v1h-8zM39 473h4v1h-4zM162 473h2v1h-2zM196 473h3v1h-3zM259 473h8v1h-8zM43 474h3v1h-3zM159 474h3v1h-3zM199 474h4v1h-4zM255 474h4v1h-4zM46 475h2v1h-2zM155 475h4v1h-4zM203 475h3v1h-3zM251 475h4v1h-4zM48 476h2v1h-2zM152 476h3v1h-3zM206 476h2v1h-2zM247 476h4v1h-4zM50 477h2v1h-2zM150 477h2v1h-2zM208 477h3v1h-3zM243 477h4v1h-4zM52 478h3v1h-3zM147 478h3v1h-3zM211 478h4v1h-4zM239 478h4v1h-4zM55 479h3v1h-3zM144 479h3v1h-3zM215 479h4v1h-4zM235 479h4v1h-4zM58 480h2v1h-2zM142 480h2v1h-2zM219 480h16v1h-16zM60 481h2v1h-2zM107 481h4v1h-4zM139 481h3v1h-3zM62 482h2v1h-2zM95 482h12v1h-12zM111 482h8v1h-8zM131 482h8v1h-8zM64 483h3v1h-3zM91 483h4v1h-4zM119 483h12v1h-12zM67 484h4v1h-4zM87 484h4v1h-4zM71 485h4v1h-4zM79 485h8v1h-8zM75 486h4v1h-4z" fill="#ff0000"/>
</g>
<text x="9.2" y="436" font-size="10.2" fill="#000" textLength="147.5" lengthAdjust="spacingAndGlyphs">MACD(12,26,9) 0.014673 0.009247</text>
<rect x="1168" y="425" width="1" height="1" fill="#000"/>
<text x="1171.1" y="434" font-size="10.2" fill="#000" textLength="37.8" lengthAdjust="spacingAndGlyphs">0.063184</text>
<rect x="1168" y="465" width="1" height="1" fill="#000"/>
<text x="1170.9" y="469" font-size="10.2" fill="#000" textLength="18.1" lengthAdjust="spacingAndGlyphs">0.00</text>
<text x="1171" y="488" font-size="10.2" fill="#000" textLength="42" lengthAdjust="spacingAndGlyphs">-0.040355</text>
<rect x="1168" y="491" width="1" height="1" fill="#000"/>
<g clip-path="url(#crsi)" shape-rendering="crispEdges">
<line x1="6" y1="519.5" x2="1167" y2="519.5" stroke="#c0c0c0" stroke-width="1" stroke-dasharray="3 3"/>
<line x1="6" y1="552.5" x2="1167" y2="552.5" stroke="#c0c0c0" stroke-width="1" stroke-dasharray="3 3"/>
<path d="M725 503h1v1h-1zM725 504h1v1h-1zM724 505h1v1h-1zM726 505h1v1h-1zM724 506h1v1h-1zM726 506h1v1h-1zM723 507h1v1h-1zM726 507h1v1h-1zM723 508h1v1h-1zM727 508h1v1h-1zM722 509h1v1h-1zM727 509h1v1h-1zM437 510h1v1h-1zM452 510h6v1h-6zM722 510h1v1h-1zM728 510h1v1h-1zM437 511h2v1h-2zM450 511h2v1h-2zM458 511h2v1h-2zM719 511h3v1h-3zM728 511h1v1h-1zM733 511h1v1h-1zM437 512h1v1h-1zM439 512h2v1h-2zM447 512h3v1h-3zM460 512h2v1h-2zM717 512h2v1h-2zM728 512h1v1h-1zM731 512h2v1h-2zM734 512h1v1h-1zM436 513h1v1h-1zM441 513h6v1h-6zM462 513h2v1h-2zM717 513h1v1h-1zM729 513h2v1h-2zM735 513h1v1h-1zM436 514h1v1h-1zM464 514h6v1h-6zM716 514h1v1h-1zM729 514h1v1h-1zM735 514h1v1h-1zM740 514h3v1h-3zM747 514h3v1h-3zM436 515h1v1h-1zM470 515h2v1h-2zM716 515h1v1h-1zM736 515h1v1h-1zM738 515h2v1h-2zM743 515h4v1h-4zM749 515h1v1h-1zM797 515h2v1h-2zM436 516h1v1h-1zM472 516h2v1h-2zM716 516h1v1h-1zM737 516h1v1h-1zM750 516h1v1h-1zM795 516h2v1h-2zM799 516h4v1h-4zM436 517h1v1h-1zM474 517h1v1h-1zM716 517h1v1h-1zM750 517h1v1h-1zM794 517h1v1h-1zM803 517h3v1h-3zM820 517h2v1h-2zM436 518h1v1h-1zM475 518h2v1h-2zM493 518h1v1h-1zM715 518h1v1h-1zM750 518h1v1h-1zM789 518h5v1h-5zM806 518h1v1h-1zM818 518h2v1h-2zM822 518h2v1h-2zM435 519h1v1h-1zM477 519h5v1h-5zM491 519h2v1h-2zM494 519h1v1h-1zM715 519h1v1h-1zM750 519h1v1h-1zM788 519h1v1h-1zM807 519h1v1h-1zM812 519h6v1h-6zM824 519h2v1h-2zM435 520h1v1h-1zM482 520h1v1h-1zM490 520h1v1h-1zM495 520h2v1h-2zM499 520h4v1h-4zM527 520h3v1h-3zM715 520h1v1h-1zM751 520h1v1h-1zM787 520h1v1h-1zM808 520h1v1h-1zM810 520h2v1h-2zM826 520h1v1h-1zM435 521h1v1h-1zM483 521h1v1h-1zM488 521h2v1h-2zM497 521h2v1h-2zM503 521h3v1h-3zM525 521h2v1h-2zM530 521h2v1h-2zM714 521h1v1h-1zM751 521h1v1h-1zM786 521h1v1h-1zM809 521h1v1h-1zM826 521h1v1h-1zM435 522h1v1h-1zM484 522h1v1h-1zM486 522h2v1h-2zM506 522h2v1h-2zM511 522h7v1h-7zM524 522h1v1h-1zM532 522h2v1h-2zM714 522h1v1h-1zM751 522h1v1h-1zM785 522h1v1h-1zM827 522h1v1h-1zM435 523h1v1h-1zM485 523h1v1h-1zM508 523h3v1h-3zM518 523h1v1h-1zM523 523h1v1h-1zM534 523h1v1h-1zM714 523h1v1h-1zM751 523h1v1h-1zM784 523h1v1h-1zM827 523h1v1h-1zM435 524h1v1h-1zM519 524h2v1h-2zM522 524h1v1h-1zM534 524h1v1h-1zM714 524h1v1h-1zM752 524h1v1h-1zM775 524h3v1h-3zM783 524h1v1h-1zM828 524h1v1h-1zM397 525h1v1h-1zM434 525h1v1h-1zM521 525h1v1h-1zM535 525h1v1h-1zM547 525h4v1h-4zM713 525h1v1h-1zM752 525h1v1h-1zM773 525h2v1h-2zM778 525h2v1h-2zM782 525h1v1h-1zM828 525h1v1h-1zM396 526h1v1h-1zM398 526h1v1h-1zM434 526h1v1h-1zM536 526h1v1h-1zM543 526h4v1h-4zM551 526h4v1h-4zM713 526h1v1h-1zM752 526h1v1h-1zM757 526h2v1h-2zM771 526h2v1h-2zM780 526h2v1h-2zM829 526h2v1h-2zM912 526h3v1h-3zM919 526h7v1h-7zM396 527h1v1h-1zM398 527h1v1h-1zM434 527h1v1h-1zM536 527h1v1h-1zM539 527h4v1h-4zM555 527h3v1h-3zM712 527h1v1h-1zM752 527h1v1h-1zM756 527h1v1h-1zM759 527h8v1h-8zM770 527h1v1h-1zM831 527h3v1h-3zM910 527h2v1h-2zM915 527h4v1h-4zM395 528h1v1h-1zM399 528h1v1h-1zM434 528h1v1h-1zM537 528h2v1h-2zM557 528h1v1h-1zM712 528h1v1h-1zM753 528h1v1h-1zM755 528h1v1h-1zM767 528h3v1h-3zM834 528h1v1h-1zM901 528h2v1h-2zM907 528h3v1h-3zM394 529h1v1h-1zM399 529h1v1h-1zM434 529h1v1h-1zM558 529h1v1h-1zM711 529h1v1h-1zM753 529h2v1h-2zM835 529h1v1h-1zM899 529h2v1h-2zM903 529h4v1h-4zM394 530h1v1h-1zM400 530h1v1h-1zM407 530h7v1h-7zM421 530h1v1h-1zM434 530h1v1h-1zM558 530h1v1h-1zM710 530h1v1h-1zM753 530h1v1h-1zM835 530h1v1h-1zM898 530h1v1h-1zM301 531h5v1h-5zM391 531h3v1h-3zM400 531h1v1h-1zM403 531h4v1h-4zM414 531h1v1h-1zM420 531h1v1h-1zM422 531h2v1h-2zM433 531h1v1h-1zM558 531h1v1h-1zM701 531h1v1h-1zM710 531h1v1h-1zM836 531h1v1h-1zM889 531h9v1h-9zM149 532h1v1h-1zM300 532h1v1h-1zM306 532h1v1h-1zM389 532h2v1h-2zM401 532h2v1h-2zM414 532h1v1h-1zM420 532h1v1h-1zM424 532h3v1h-3zM433 532h1v1h-1zM559 532h1v1h-1zM700 532h1v1h-1zM702 532h2v1h-2zM707 532h3v1h-3zM837 532h1v1h-1zM844 532h2v1h-2zM888 532h1v1h-1zM148 533h1v1h-1zM150 533h1v1h-1zM299 533h1v1h-1zM306 533h1v1h-1zM353 533h1v1h-1zM388 533h1v1h-1zM415 533h1v1h-1zM419 533h1v1h-1zM427 533h7v1h-7zM559 533h1v1h-1zM621 533h2v1h-2zM699 533h1v1h-1zM704 533h3v1h-3zM838 533h2v1h-2zM842 533h2v1h-2zM846 533h2v1h-2zM851 533h3v1h-3zM887 533h1v1h-1zM147 534h1v1h-1zM150 534h1v1h-1zM299 534h1v1h-1zM307 534h1v1h-1zM321 534h1v1h-1zM351 534h2v1h-2zM354 534h1v1h-1zM387 534h1v1h-1zM416 534h1v1h-1zM418 534h1v1h-1zM560 534h1v1h-1zM620 534h1v1h-1zM623 534h3v1h-3zM632 534h2v1h-2zM698 534h1v1h-1zM840 534h2v1h-2zM848 534h3v1h-3zM853 534h1v1h-1zM881 534h1v1h-1zM887 534h1v1h-1zM146 535h1v1h-1zM151 535h1v1h-1zM160 535h3v1h-3zM243 535h3v1h-3zM285 535h5v1h-5zM298 535h1v1h-1zM308 535h1v1h-1zM319 535h2v1h-2zM322 535h1v1h-1zM350 535h1v1h-1zM354 535h1v1h-1zM386 535h1v1h-1zM416 535h1v1h-1zM418 535h1v1h-1zM560 535h1v1h-1zM620 535h1v1h-1zM626 535h2v1h-2zM630 535h2v1h-2zM634 535h1v1h-1zM679 535h3v1h-3zM696 535h2v1h-2zM854 535h1v1h-1zM879 535h2v1h-2zM882 535h2v1h-2zM886 535h1v1h-1zM139 536h7v1h-7zM152 536h1v1h-1zM158 536h2v1h-2zM163 536h3v1h-3zM239 536h4v1h-4zM246 536h1v1h-1zM284 536h1v1h-1zM290 536h1v1h-1zM296 536h2v1h-2zM308 536h1v1h-1zM311 536h4v1h-4zM318 536h1v1h-1zM323 536h1v1h-1zM341 536h1v1h-1zM348 536h2v1h-2zM355 536h1v1h-1zM384 536h2v1h-2zM417 536h1v1h-1zM560 536h1v1h-1zM619 536h1v1h-1zM628 536h2v1h-2zM634 536h1v1h-1zM665 536h6v1h-6zM675 536h4v1h-4zM682 536h1v1h-1zM694 536h2v1h-2zM854 536h1v1h-1zM873 536h2v1h-2zM878 536h1v1h-1zM884 536h2v1h-2zM135 537h4v1h-4zM152 537h1v1h-1zM155 537h3v1h-3zM166 537h1v1h-1zM235 537h4v1h-4zM246 537h1v1h-1zM284 537h1v1h-1zM291 537h2v1h-2zM294 537h2v1h-2zM309 537h2v1h-2zM315 537h3v1h-3zM323 537h1v1h-1zM340 537h1v1h-1zM342 537h2v1h-2zM346 537h2v1h-2zM355 537h1v1h-1zM369 537h1v1h-1zM382 537h2v1h-2zM561 537h1v1h-1zM611 537h3v1h-3zM619 537h1v1h-1zM635 537h1v1h-1zM645 537h2v1h-2zM663 537h2v1h-2zM671 537h4v1h-4zM683 537h1v1h-1zM693 537h1v1h-1zM855 537h1v1h-1zM872 537h1v1h-1zM875 537h3v1h-3zM125 538h1v1h-1zM133 538h2v1h-2zM153 538h2v1h-2zM167 538h2v1h-2zM171 538h3v1h-3zM232 538h3v1h-3zM247 538h1v1h-1zM257 538h1v1h-1zM268 538h2v1h-2zM283 538h1v1h-1zM293 538h1v1h-1zM324 538h1v1h-1zM327 538h3v1h-3zM339 538h1v1h-1zM344 538h2v1h-2zM356 538h1v1h-1zM368 538h2v1h-2zM377 538h5v1h-5zM561 538h2v1h-2zM609 538h2v1h-2zM614 538h1v1h-1zM618 538h1v1h-1zM635 538h1v1h-1zM644 538h1v1h-1zM647 538h3v1h-3zM656 538h3v1h-3zM662 538h1v1h-1zM683 538h1v1h-1zM692 538h1v1h-1zM855 538h1v1h-1zM871 538h1v1h-1zM15 539h3v1h-3zM124 539h1v1h-1zM126 539h1v1h-1zM131 539h2v1h-2zM169 539h2v1h-2zM174 539h1v1h-1zM230 539h2v1h-2zM247 539h1v1h-1zM256 539h1v1h-1zM258 539h2v1h-2zM266 539h2v1h-2zM270 539h2v1h-2zM282 539h1v1h-1zM325 539h2v1h-2zM330 539h2v1h-2zM338 539h1v1h-1zM356 539h1v1h-1zM367 539h1v1h-1zM370 539h1v1h-1zM377 539h1v1h-1zM563 539h3v1h-3zM608 539h1v1h-1zM615 539h2v1h-2zM618 539h1v1h-1zM636 539h1v1h-1zM643 539h1v1h-1zM650 539h2v1h-2zM654 539h2v1h-2zM659 539h3v1h-3zM684 539h1v1h-1zM691 539h1v1h-1zM856 539h1v1h-1zM870 539h1v1h-1zM13 540h2v1h-2zM18 540h1v1h-1zM81 540h1v1h-1zM123 540h1v1h-1zM127 540h2v1h-2zM130 540h1v1h-1zM175 540h2v1h-2zM229 540h1v1h-1zM248 540h1v1h-1zM255 540h1v1h-1zM260 540h6v1h-6zM272 540h2v1h-2zM282 540h1v1h-1zM332 540h6v1h-6zM357 540h6v1h-6zM366 540h1v1h-1zM370 540h1v1h-1zM376 540h1v1h-1zM565 540h1v1h-1zM587 540h3v1h-3zM608 540h1v1h-1zM617 540h1v1h-1zM636 540h1v1h-1zM642 540h1v1h-1zM652 540h2v1h-2zM685 540h2v1h-2zM690 540h1v1h-1zM856 540h1v1h-1zM869 540h1v1h-1zM12 541h1v1h-1zM19 541h1v1h-1zM79 541h2v1h-2zM82 541h1v1h-1zM123 541h1v1h-1zM129 541h1v1h-1zM177 541h1v1h-1zM216 541h2v1h-2zM227 541h2v1h-2zM248 541h1v1h-1zM255 541h1v1h-1zM274 541h1v1h-1zM281 541h1v1h-1zM363 541h3v1h-3zM371 541h1v1h-1zM376 541h1v1h-1zM566 541h1v1h-1zM584 541h3v1h-3zM590 541h2v1h-2zM607 541h1v1h-1zM637 541h5v1h-5zM687 541h3v1h-3zM857 541h1v1h-1zM868 541h1v1h-1zM11 542h1v1h-1zM20 542h1v1h-1zM78 542h1v1h-1zM83 542h1v1h-1zM122 542h1v1h-1zM177 542h1v1h-1zM214 542h2v1h-2zM218 542h2v1h-2zM226 542h1v1h-1zM249 542h2v1h-2zM254 542h1v1h-1zM275 542h1v1h-1zM279 542h2v1h-2zM371 542h1v1h-1zM375 542h1v1h-1zM566 542h1v1h-1zM582 542h2v1h-2zM592 542h3v1h-3zM607 542h1v1h-1zM857 542h1v1h-1zM867 542h1v1h-1zM11 543h1v1h-1zM21 543h1v1h-1zM73 543h5v1h-5zM84 543h1v1h-1zM87 543h3v1h-3zM119 543h3v1h-3zM178 543h1v1h-1zM213 543h1v1h-1zM220 543h6v1h-6zM251 543h3v1h-3zM276 543h1v1h-1zM278 543h1v1h-1zM372 543h1v1h-1zM375 543h1v1h-1zM567 543h1v1h-1zM581 543h1v1h-1zM595 543h7v1h-7zM606 543h1v1h-1zM858 543h1v1h-1zM866 543h1v1h-1zM5 544h2v1h-2zM10 544h1v1h-1zM22 544h2v1h-2zM71 544h2v1h-2zM85 544h2v1h-2zM90 544h1v1h-1zM117 544h2v1h-2zM178 544h1v1h-1zM212 544h1v1h-1zM277 544h1v1h-1zM372 544h1v1h-1zM374 544h1v1h-1zM567 544h1v1h-1zM573 544h1v1h-1zM579 544h2v1h-2zM602 544h2v1h-2zM606 544h1v1h-1zM859 544h1v1h-1zM864 544h2v1h-2zM7 545h3v1h-3zM24 545h2v1h-2zM33 545h1v1h-1zM70 545h1v1h-1zM90 545h1v1h-1zM117 545h1v1h-1zM179 545h1v1h-1zM211 545h1v1h-1zM373 545h2v1h-2zM567 545h1v1h-1zM572 545h1v1h-1zM574 545h2v1h-2zM578 545h1v1h-1zM604 545h2v1h-2zM860 545h1v1h-1zM862 545h2v1h-2zM26 546h1v1h-1zM32 546h1v1h-1zM34 546h1v1h-1zM65 546h5v1h-5zM91 546h1v1h-1zM116 546h1v1h-1zM179 546h1v1h-1zM210 546h1v1h-1zM373 546h1v1h-1zM568 546h1v1h-1zM571 546h1v1h-1zM576 546h2v1h-2zM861 546h1v1h-1zM27 547h1v1h-1zM31 547h1v1h-1zM34 547h1v1h-1zM65 547h1v1h-1zM91 547h1v1h-1zM116 547h1v1h-1zM180 547h1v1h-1zM185 547h1v1h-1zM209 547h1v1h-1zM568 547h1v1h-1zM571 547h1v1h-1zM28 548h1v1h-1zM30 548h1v1h-1zM35 548h1v1h-1zM64 548h1v1h-1zM92 548h1v1h-1zM116 548h1v1h-1zM180 548h1v1h-1zM183 548h2v1h-2zM186 548h2v1h-2zM207 548h2v1h-2zM569 548h2v1h-2zM29 549h1v1h-1zM35 549h1v1h-1zM64 549h1v1h-1zM92 549h1v1h-1zM115 549h1v1h-1zM181 549h2v1h-2zM188 549h2v1h-2zM201 549h2v1h-2zM206 549h1v1h-1zM569 549h1v1h-1zM36 550h1v1h-1zM64 550h1v1h-1zM93 550h1v1h-1zM99 550h4v1h-4zM115 550h1v1h-1zM181 550h1v1h-1zM190 550h2v1h-2zM200 550h1v1h-1zM203 550h3v1h-3zM36 551h1v1h-1zM63 551h1v1h-1zM93 551h6v1h-6zM103 551h3v1h-3zM115 551h1v1h-1zM192 551h2v1h-2zM199 551h1v1h-1zM37 552h1v1h-1zM63 552h1v1h-1zM106 552h1v1h-1zM115 552h1v1h-1zM194 552h2v1h-2zM198 552h1v1h-1zM37 553h1v1h-1zM62 553h1v1h-1zM107 553h2v1h-2zM114 553h1v1h-1zM196 553h2v1h-2zM38 554h1v1h-1zM62 554h1v1h-1zM109 554h1v1h-1zM114 554h1v1h-1zM39 555h1v1h-1zM62 555h1v1h-1zM110 555h1v1h-1zM114 555h1v1h-1zM40 556h1v1h-1zM55 556h4v1h-4zM61 556h1v1h-1zM111 556h3v1h-3zM41 557h1v1h-1zM52 557h3v1h-3zM59 557h3v1h-3zM113 557h1v1h-1zM42 558h1v1h-1zM50 558h2v1h-2zM43 559h2v1h-2zM47 559h3v1h-3zM45 560h2v1h-2z" fill="#1e90ff"/>
</g>
<text x="9.6" y="506" font-size="10.2" fill="#000" textLength="66.7" lengthAdjust="spacingAndGlyphs">RSI(14) 61.4075</text>
<rect x="1168" y="494" width="1" height="1" fill="#000"/>
<rect x="1168" y="577" width="1" height="1" fill="#000"/>
<text x="1171" y="504" font-size="10.2" fill="#000" textLength="16" lengthAdjust="spacingAndGlyphs">100</text>
<text x="1171" y="523" font-size="10.2" fill="#000" textLength="10.5" lengthAdjust="spacingAndGlyphs">70</text>
<text x="1171" y="556" font-size="10.2" fill="#000" textLength="10.5" lengthAdjust="spacingAndGlyphs">30</text>
<text x="1171" y="574" font-size="10.2" fill="#000">0</text>
<rect x="5" y="578" width="1" height="3" fill="#000"/>
<text x="4.2" y="590" font-size="10.2" fill="#000" textLength="51.2" lengthAdjust="spacingAndGlyphs">31 Dec 2018</text>
<rect x="69" y="578" width="1" height="3" fill="#000"/>
<text x="68.2" y="590" font-size="10.2" fill="#000" textLength="49.2" lengthAdjust="spacingAndGlyphs">18 Jan 2019</text>
<rect x="133" y="578" width="1" height="3" fill="#000"/>
<text x="132.2" y="590" font-size="10.2" fill="#000" textLength="45.6" lengthAdjust="spacingAndGlyphs">6 Feb 2019</text>
<rect x="197" y="578" width="1" height="3" fill="#000"/>
<text x="196.2" y="590" font-size="10.2" fill="#000" textLength="50.5" lengthAdjust="spacingAndGlyphs">25 Feb 2019</text>
<rect x="261" y="578" width="1" height="3" fill="#000"/>
<text x="260.2" y="590" font-size="10.2" fill="#000" textLength="50.5" lengthAdjust="spacingAndGlyphs">15 Mar 2019</text>
<rect x="325" y="578" width="1" height="3" fill="#000"/>
<text x="324.2" y="590" font-size="10.2" fill="#000" textLength="45" lengthAdjust="spacingAndGlyphs">3 Apr 2019</text>
<rect x="389" y="578" width="1" height="3" fill="#000"/>
<text x="388.2" y="590" font-size="10.2" fill="#000" textLength="50.5" lengthAdjust="spacingAndGlyphs">23 Apr 2019</text>
<rect x="453" y="578" width="1" height="3" fill="#000"/>
<text x="452.2" y="590" font-size="10.2" fill="#000" textLength="51" lengthAdjust="spacingAndGlyphs">17 May 2019</text>
<rect x="517" y="578" width="1" height="3" fill="#000"/>
<text x="516.2" y="590" font-size="10.2" fill="#000" textLength="45.6" lengthAdjust="spacingAndGlyphs">5 Jun 2019</text>
<rect x="581" y="578" width="1" height="3" fill="#000"/>
<text x="580.2" y="590" font-size="10.2" fill="#000" textLength="49.2" lengthAdjust="spacingAndGlyphs">24 Jun 2019</text>
<rect x="645" y="578" width="1" height="3" fill="#000"/>
<text x="644.2" y="590" font-size="10.2" fill="#000" textLength="45.6" lengthAdjust="spacingAndGlyphs">12 Jul 2019</text>
<rect x="709" y="578" width="1" height="3" fill="#000"/>
<text x="708.2" y="590" font-size="10.2" fill="#000" textLength="45.6" lengthAdjust="spacingAndGlyphs">31 Jul 2019</text>
<rect x="773" y="578" width="1" height="3" fill="#000"/>
<text x="772.2" y="590" font-size="10.2" fill="#000" textLength="51.9" lengthAdjust="spacingAndGlyphs">19 Aug 2019</text>
<rect x="837" y="578" width="1" height="3" fill="#000"/>
<text x="836.2" y="590" font-size="10.2" fill="#000" textLength="45.6" lengthAdjust="spacingAndGlyphs">6 Sep 2019</text>
<rect x="901" y="578" width="1" height="3" fill="#000"/>
<text x="900.2" y="590" font-size="10.2" fill="#000" textLength="50.2" lengthAdjust="spacingAndGlyphs">25 Sep 2019</text>
<rect x="6" y="42" width="223" height="68" fill="#ffffff"/>
<defs><linearGradient id="gh" x1="0" y1="0" x2="0" y2="1"><stop offset="0" stop-color="#fb5858"/><stop offset="1" stop-color="#e02c2c"/></linearGradient><linearGradient id="gp" x1="0" y1="0" x2="0" y2="1"><stop offset="0" stop-color="#dc2c2c"/><stop offset="1" stop-color="#a80000"/></linearGradient><linearGradient id="gpu" gradientUnits="userSpaceOnUse" x1="0" y1="69" x2="0" y2="107"><stop offset="0" stop-color="#dc2c2c"/><stop offset="1" stop-color="#a80000"/></linearGradient><linearGradient id="gb" x1="0" y1="0" x2="0" y2="1"><stop offset="0" stop-color="#f4f4f4"/><stop offset="0.45" stop-color="#ececec"/><stop offset="0.5" stop-color="#dcdcdc"/><stop offset="1" stop-color="#d4d4d4"/></linearGradient></defs>
<rect x="8" y="44" width="52" height="25" fill="#b00000"/>
<rect x="9" y="45" width="50" height="24" fill="url(#gh)"/>
<rect x="8" y="68" width="109" height="40" fill="#b00000"/>
<rect x="9" y="69" width="107" height="38" fill="url(#gp)"/>
<rect x="12" y="67" width="44" height="1" fill="#8a0000"/>
<rect x="12" y="68" width="44" height="1" fill="#f06060"/>
<rect x="175" y="44" width="52" height="25" fill="#b00000"/>
<rect x="176" y="45" width="50" height="24" fill="url(#gh)"/>
<rect x="119" y="68" width="108" height="40" fill="#b00000"/>
<rect x="120" y="69" width="106" height="38" fill="url(#gp)"/>
<rect x="179" y="67" width="44" height="1" fill="#8a0000"/>
<rect x="179" y="68" width="44" height="1" fill="#f06060"/>
<rect x="60" y="44" width="115" height="24" fill="#ffffff"/>
<rect x="62" y="44" width="111" height="22" fill="#a8acb4"/>
<rect x="63" y="45" width="109" height="20" fill="#ffffff"/>
<rect x="64" y="46" width="18" height="18" fill="url(#gb)"/>
<rect x="83" y="45" width="1" height="20" fill="#a8acb4"/>
<rect x="151" y="45" width="1" height="20" fill="#a8acb4"/>
<rect x="153" y="46" width="18" height="18" fill="url(#gb)"/>
<path d="M70,53 L75,53 L72.5,56 Z" fill="#4a64c8"/>
<path d="M159,56 L164,56 L161.5,53 Z" fill="#4a64c8"/>
<text x="124.6" y="59" font-size="12" fill="#000" textLength="23.4" lengthAdjust="spacingAndGlyphs">5.00</text>
<text x="20.3" y="60" font-size="13" fill="#ffe8e8" textLength="25.7" lengthAdjust="spacingAndGlyphs">SELL</text>
<text x="188.9" y="60" font-size="13" fill="#ffe8e8" textLength="23.1" lengthAdjust="spacingAndGlyphs">BUY</text>
<text x="28" y="99" font-size="12.5" fill="#fff" textLength="24" lengthAdjust="spacingAndGlyphs" font-weight="bold">7.14</text>
<text x="55" y="99" font-size="34.5" fill="#fff" textLength="35" lengthAdjust="spacingAndGlyphs" stroke="url(#gpu)" stroke-width="0.55">79</text>
<text x="95" y="83" font-size="12" fill="#fff" font-weight="bold">2</text>
<text x="138.3" y="99" font-size="12.5" fill="#fff" textLength="23.1" lengthAdjust="spacingAndGlyphs" font-weight="bold">7.15</text>
<text x="165.5" y="99" font-size="34.5" fill="#fff" textLength="35" lengthAdjust="spacingAndGlyphs" stroke="url(#gpu)" stroke-width="0.55">02</text>
<text x="205.8" y="83" font-size="12" fill="#fff" font-weight="bold">8</text>
<rect x="0" y="600" width="1210" height="1" fill="#000"/>
<rect x="0" y="601" width="1210" height="1" fill="#fff"/>
<rect x="0" y="602" width="1210" height="18" fill="#f0f0f0"/>
<rect x="0" y="601" width="1" height="19" fill="#a0a0a0"/>
<rect x="1" y="601" width="1" height="19" fill="#696969"/>
<text x="18.6" y="615" font-size="12.6" fill="#505050" textLength="79.3" lengthAdjust="spacingAndGlyphs">EURUSD,Daily</text>
<text x="121.5" y="615" font-size="12.6" fill="#505050" textLength="81.3" lengthAdjust="spacingAndGlyphs">AUDUSD,Daily</text>
<text x="224.4" y="615" font-size="12.6" fill="#505050" textLength="80.6" lengthAdjust="spacingAndGlyphs">USDCHF,Daily</text>
<text x="324.8" y="615" font-size="12.6" fill="#505050" textLength="81.0" lengthAdjust="spacingAndGlyphs">USDCAD,Daily</text>
<text x="533" y="615" font-size="12.6" fill="#505050" textLength="68.5" lengthAdjust="spacingAndGlyphs">XAUUSD,H4</text>
<text x="624.6" y="615" font-size="12.6" fill="#505050" textLength="45.6" lengthAdjust="spacingAndGlyphs">DJ30,H4</text>
<text x="694.3" y="615" font-size="12.6" fill="#505050" textLength="59.3" lengthAdjust="spacingAndGlyphs">USDOil,H1</text>
<text x="776" y="615" font-size="12.6" fill="#505050" textLength="66.6" lengthAdjust="spacingAndGlyphs">USDCHF,H1</text>
<text x="866.2" y="615" font-size="12.6" fill="#505050" textLength="67.5" lengthAdjust="spacingAndGlyphs">GBPUSD,H1</text>
<text x="957.7" y="615" font-size="12.6" fill="#505050" textLength="67.5" lengthAdjust="spacingAndGlyphs">EURUSD,H1</text>
<text x="1048.8" y="615" font-size="12.6" fill="#505050" textLength="68.8" lengthAdjust="spacingAndGlyphs">GBPAUD,H1</text>
<rect x="110" y="603" width="1" height="14" fill="#6a6a6a"/>
<rect x="214" y="603" width="1" height="14" fill="#6a6a6a"/>
<rect x="315" y="603" width="1" height="14" fill="#6a6a6a"/>
<rect x="614" y="603" width="1" height="14" fill="#6a6a6a"/>
<rect x="683" y="603" width="1" height="14" fill="#6a6a6a"/>
<rect x="766" y="603" width="1" height="14" fill="#6a6a6a"/>
<rect x="854" y="603" width="1" height="14" fill="#6a6a6a"/>
<rect x="946" y="603" width="1" height="14" fill="#6a6a6a"/>
<rect x="1038" y="603" width="1" height="14" fill="#6a6a6a"/>
<rect x="1130" y="603" width="1" height="14" fill="#6a6a6a"/>
<text x="1140.6" y="615" font-size="12.6" fill="#505050" textLength="36" lengthAdjust="spacingAndGlyphs">USDJP</text>
<rect x="418" y="600" width="104" height="18" fill="#000"/>
<rect x="419" y="601" width="102" height="16" fill="#fff"/>
<text x="428.4" y="615" font-size="12.6" fill="#000" textLength="82.6" lengthAdjust="spacingAndGlyphs">USDCNH,Daily</text>
<path d="M1186.5,605.5 L1186.5,612.5 L1182.5,609 Z" fill="#a0a0a0"/>
<path d="M1201.5,605.5 L1201.5,612.5 L1205.5,609 Z" fill="#000"/></svg></body></html>
